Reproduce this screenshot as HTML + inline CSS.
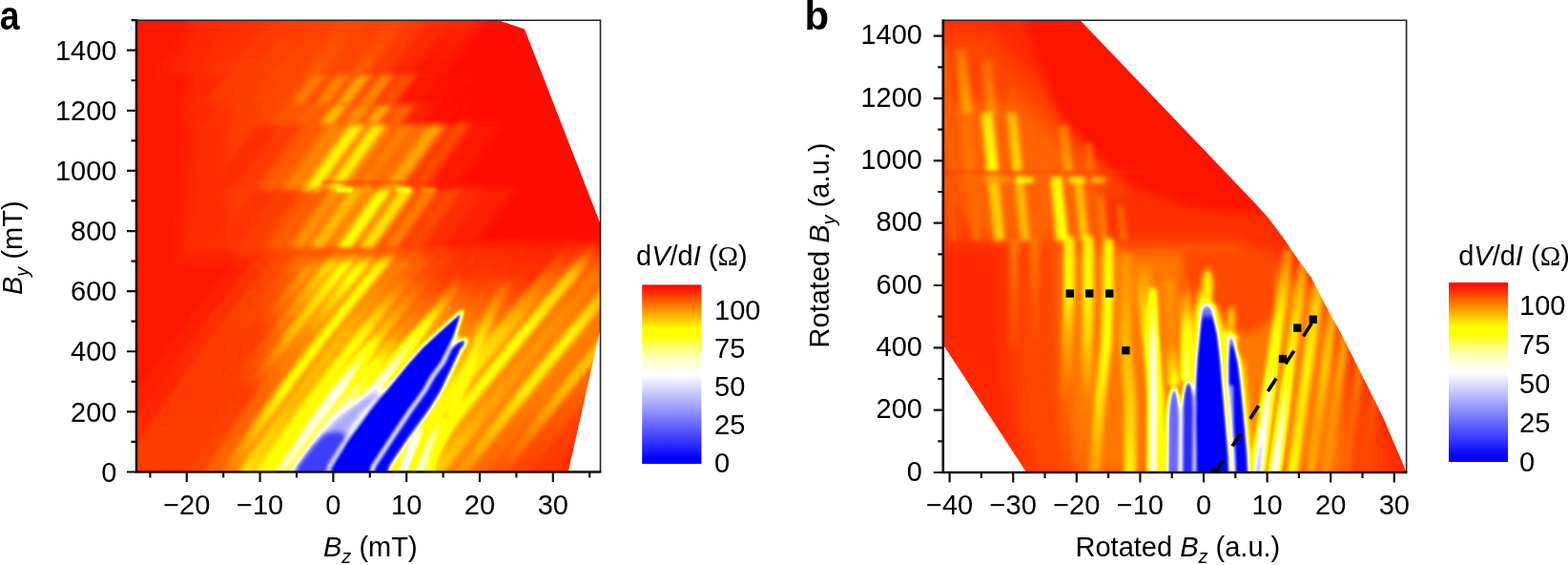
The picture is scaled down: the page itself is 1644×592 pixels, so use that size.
<!DOCTYPE html>
<html><head><meta charset="utf-8"><title>dV/dI maps</title>
<style>html,body{margin:0;padding:0;background:#fff;width:1644px;height:592px;overflow:hidden}svg{display:block}</style>
</head><body><svg width="1644" height="592" viewBox="0 0 1644 592"><defs><filter id="cm" filterUnits="userSpaceOnUse" x="0" y="0" width="1644" height="592" color-interpolation-filters="sRGB"><feGaussianBlur stdDeviation="1.6"/><feComponentTransfer><feFuncR type="table" tableValues="0 0 0 0 0.009 0.026 0.042 0.059 0.076 0.092 0.109 0.126 0.142 0.159 0.176 0.192 0.209 0.226 0.242 0.259 0.276 0.292 0.309 0.326 0.342 0.359 0.376 0.392 0.409 0.426 0.442 0.459 0.475 0.492 0.509 0.525 0.542 0.559 0.575 0.592 0.609 0.625 0.642 0.659 0.675 0.692 0.709 0.725 0.742 0.759 0.775 0.792 0.809 0.825 0.842 0.859 0.875 0.892 0.909 0.925 0.942 0.959 0.975 0.992 1 1 1 1 1 1 1 1 1 1 1 1 1 1 1 1 1 1 1 1 1 1 1 1 1 1 1 1 1 1 1 1 1 1 1 1 1 1 1 1 1 1 1 1 1 1 1 1 1 1 1 1 1 1 1 1 1 1 1 1 1 1 1 1 1"/><feFuncG type="table" tableValues="0 0 0 0 0.009 0.026 0.042 0.059 0.076 0.092 0.109 0.126 0.142 0.159 0.176 0.192 0.209 0.226 0.242 0.259 0.276 0.292 0.309 0.326 0.342 0.359 0.376 0.392 0.409 0.426 0.442 0.459 0.475 0.492 0.509 0.525 0.542 0.559 0.575 0.592 0.609 0.625 0.642 0.659 0.675 0.692 0.709 0.725 0.742 0.759 0.775 0.792 0.809 0.825 0.842 0.859 0.875 0.892 0.909 0.925 0.942 0.959 0.975 0.992 1 1 1 1 1 1 1 1 1 1 1 1 1 1 1 1 1 1 1 1 1 1 1 1 1 1 1 1 1 1 1 1 1 0.989 0.957 0.925 0.893 0.861 0.829 0.797 0.765 0.733 0.702 0.67 0.638 0.606 0.574 0.542 0.51 0.478 0.446 0.415 0.383 0.351 0.319 0.287 0.255 0.223 0.191 0.159 0.128 0.096 0.064 0.032 0"/><feFuncB type="table" tableValues="1 1 1 1 1 1 1 1 1 1 1 1 1 1 1 1 1 1 1 1 1 1 1 1 1 1 1 1 1 1 1 1 1 1 1 1 1 1 1 1 1 1 1 1 1 1 1 1 1 1 1 1 1 1 1 1 1 1 1 1 1 1 1 1 0.989 0.968 0.947 0.926 0.905 0.884 0.863 0.842 0.821 0.8 0.779 0.758 0.726 0.687 0.648 0.609 0.57 0.531 0.492 0.447 0.393 0.34 0.287 0.234 0.181 0.127 0.074 0.021 0 0 0 0 0 0 0 0 0 0 0 0 0 0 0 0 0 0 0 0 0 0 0 0 0 0 0 0 0 0 0 0 0 0 0 0 0"/></feComponentTransfer></filter><filter id="b1" filterUnits="userSpaceOnUse" x="-50" y="-50" width="1744" height="692" color-interpolation-filters="sRGB"><feGaussianBlur stdDeviation="1"/></filter><filter id="b2" filterUnits="userSpaceOnUse" x="-50" y="-50" width="1744" height="692" color-interpolation-filters="sRGB"><feGaussianBlur stdDeviation="2"/></filter><filter id="b3" filterUnits="userSpaceOnUse" x="-50" y="-50" width="1744" height="692" color-interpolation-filters="sRGB"><feGaussianBlur stdDeviation="3"/></filter><filter id="b4" filterUnits="userSpaceOnUse" x="-50" y="-50" width="1744" height="692" color-interpolation-filters="sRGB"><feGaussianBlur stdDeviation="4"/></filter><filter id="b5" filterUnits="userSpaceOnUse" x="-50" y="-50" width="1744" height="692" color-interpolation-filters="sRGB"><feGaussianBlur stdDeviation="5"/></filter><filter id="b6" filterUnits="userSpaceOnUse" x="-50" y="-50" width="1744" height="692" color-interpolation-filters="sRGB"><feGaussianBlur stdDeviation="6"/></filter><filter id="b8" filterUnits="userSpaceOnUse" x="-50" y="-50" width="1744" height="692" color-interpolation-filters="sRGB"><feGaussianBlur stdDeviation="8"/></filter><filter id="b10" filterUnits="userSpaceOnUse" x="-50" y="-50" width="1744" height="692" color-interpolation-filters="sRGB"><feGaussianBlur stdDeviation="10"/></filter><filter id="b12" filterUnits="userSpaceOnUse" x="-50" y="-50" width="1744" height="692" color-interpolation-filters="sRGB"><feGaussianBlur stdDeviation="12"/></filter><filter id="b16" filterUnits="userSpaceOnUse" x="-50" y="-50" width="1744" height="692" color-interpolation-filters="sRGB"><feGaussianBlur stdDeviation="16"/></filter><linearGradient id="cbg" x1="0" y1="0" x2="0" y2="1"><stop offset="0.00" stop-color="#ff0000"/><stop offset="0.01" stop-color="#ff0a00"/><stop offset="0.02" stop-color="#ff1500"/><stop offset="0.03" stop-color="#ff1f00"/><stop offset="0.04" stop-color="#ff2a00"/><stop offset="0.05" stop-color="#ff3400"/><stop offset="0.06" stop-color="#ff3e00"/><stop offset="0.07" stop-color="#ff4900"/><stop offset="0.08" stop-color="#ff5300"/><stop offset="0.09" stop-color="#ff5e00"/><stop offset="0.10" stop-color="#ff6800"/><stop offset="0.11" stop-color="#ff7200"/><stop offset="0.12" stop-color="#ff7d00"/><stop offset="0.13" stop-color="#ff8700"/><stop offset="0.14" stop-color="#ff9200"/><stop offset="0.15" stop-color="#ff9c00"/><stop offset="0.16" stop-color="#ffa700"/><stop offset="0.17" stop-color="#ffb100"/><stop offset="0.18" stop-color="#ffbb00"/><stop offset="0.19" stop-color="#ffc600"/><stop offset="0.20" stop-color="#ffd000"/><stop offset="0.21" stop-color="#ffdb00"/><stop offset="0.22" stop-color="#ffe500"/><stop offset="0.23" stop-color="#ffef00"/><stop offset="0.24" stop-color="#fffa00"/><stop offset="0.25" stop-color="#ffff00"/><stop offset="0.26" stop-color="#ffff00"/><stop offset="0.27" stop-color="#ffff00"/><stop offset="0.28" stop-color="#ffff00"/><stop offset="0.29" stop-color="#ffff07"/><stop offset="0.30" stop-color="#ffff18"/><stop offset="0.31" stop-color="#ffff2a"/><stop offset="0.32" stop-color="#ffff3b"/><stop offset="0.33" stop-color="#ffff4c"/><stop offset="0.34" stop-color="#ffff5e"/><stop offset="0.35" stop-color="#ffff6f"/><stop offset="0.36" stop-color="#ffff7e"/><stop offset="0.37" stop-color="#ffff8b"/><stop offset="0.38" stop-color="#ffff98"/><stop offset="0.39" stop-color="#ffffa4"/><stop offset="0.40" stop-color="#ffffb1"/><stop offset="0.41" stop-color="#ffffbe"/><stop offset="0.42" stop-color="#ffffc5"/><stop offset="0.43" stop-color="#ffffcc"/><stop offset="0.44" stop-color="#ffffd3"/><stop offset="0.45" stop-color="#ffffda"/><stop offset="0.46" stop-color="#ffffe1"/><stop offset="0.47" stop-color="#ffffe8"/><stop offset="0.48" stop-color="#ffffef"/><stop offset="0.49" stop-color="#fffff5"/><stop offset="0.50" stop-color="#fffffc"/><stop offset="0.51" stop-color="#fcfcff"/><stop offset="0.52" stop-color="#f6f6ff"/><stop offset="0.53" stop-color="#f1f1ff"/><stop offset="0.54" stop-color="#ebebff"/><stop offset="0.55" stop-color="#e6e6ff"/><stop offset="0.56" stop-color="#e1e1ff"/><stop offset="0.57" stop-color="#dbdbff"/><stop offset="0.58" stop-color="#d6d6ff"/><stop offset="0.59" stop-color="#d0d0ff"/><stop offset="0.60" stop-color="#cbcbff"/><stop offset="0.61" stop-color="#c5c5ff"/><stop offset="0.62" stop-color="#c0c0ff"/><stop offset="0.63" stop-color="#babaff"/><stop offset="0.64" stop-color="#b5b5ff"/><stop offset="0.65" stop-color="#b0b0ff"/><stop offset="0.66" stop-color="#aaaaff"/><stop offset="0.67" stop-color="#a5a5ff"/><stop offset="0.68" stop-color="#9f9fff"/><stop offset="0.69" stop-color="#9a9aff"/><stop offset="0.70" stop-color="#9494ff"/><stop offset="0.71" stop-color="#8f8fff"/><stop offset="0.72" stop-color="#8a8aff"/><stop offset="0.73" stop-color="#8484ff"/><stop offset="0.74" stop-color="#7f7fff"/><stop offset="0.75" stop-color="#7979ff"/><stop offset="0.76" stop-color="#7474ff"/><stop offset="0.77" stop-color="#6e6eff"/><stop offset="0.78" stop-color="#6969ff"/><stop offset="0.79" stop-color="#6363ff"/><stop offset="0.80" stop-color="#5e5eff"/><stop offset="0.81" stop-color="#5959ff"/><stop offset="0.82" stop-color="#5353ff"/><stop offset="0.83" stop-color="#4e4eff"/><stop offset="0.84" stop-color="#4848ff"/><stop offset="0.85" stop-color="#4343ff"/><stop offset="0.86" stop-color="#3d3dff"/><stop offset="0.87" stop-color="#3838ff"/><stop offset="0.88" stop-color="#3333ff"/><stop offset="0.89" stop-color="#2d2dff"/><stop offset="0.90" stop-color="#2828ff"/><stop offset="0.91" stop-color="#2222ff"/><stop offset="0.92" stop-color="#1d1dff"/><stop offset="0.93" stop-color="#1717ff"/><stop offset="0.94" stop-color="#1212ff"/><stop offset="0.95" stop-color="#0d0dff"/><stop offset="0.96" stop-color="#0707ff"/><stop offset="0.97" stop-color="#0202ff"/><stop offset="0.98" stop-color="#0000ff"/><stop offset="0.99" stop-color="#0000ff"/><stop offset="1.00" stop-color="#0000ff"/></linearGradient><clipPath id="clipA"><polygon points="143.0,21.3 522.6,21.3 550.0,30.5 629.5,234.5 629.5,344.5 595.8,494.5 143.0,494.5"/></clipPath><clipPath id="clipB"><polygon points="988.8,21.3 1132.5,21.3 1315.0,212.0 1330.0,228.5 1345.0,248.5 1359.0,269.0 1375.0,291.0 1388.0,316.4 1405.6,348.5 1428.0,393.0 1450.5,438.0 1474.6,494.7 1076.0,494.7 988.8,361.0"/></clipPath></defs><g clip-path="url(#clipA)"><g filter="url(#cm)"><rect x="100.0" y="0.0" width="560.0" height="520.0" fill="#f9f9f9"/><g filter="url(#b8)"><polygon points="425.0,0.0 660.0,0.0 660.0,250.0 478.0,255.0 470.0,200.0 462.0,150.0 440.0,100.0" fill="#fcfcfc"/></g><g filter="url(#b3)"><clipPath id="ca27"><rect x="0.0" y="257.0" width="700.0" height="300.0"/></clipPath><g><g clip-path="url(#ca27)"><linearGradient id="ga1" gradientUnits="userSpaceOnUse" x1="405.3" y1="500.0" x2="617.8" y2="240.0"><stop offset="0.000" stop-color="#b8b8b8"/><stop offset="0.038" stop-color="#b8b8b8"/><stop offset="0.076" stop-color="#b9b9b9"/><stop offset="0.113" stop-color="#bbbbbb"/><stop offset="0.151" stop-color="#bcbcbc"/><stop offset="0.189" stop-color="#bdbdbd"/><stop offset="0.227" stop-color="#bebebe"/><stop offset="0.265" stop-color="#bfbfbf"/><stop offset="0.304" stop-color="#c1c1c1"/><stop offset="0.342" stop-color="#c2c2c2"/><stop offset="0.380" stop-color="#c4c4c4"/><stop offset="0.418" stop-color="#c5c5c5"/><stop offset="0.457" stop-color="#c7c7c7"/><stop offset="0.495" stop-color="#c9c9c9"/><stop offset="0.534" stop-color="#cacaca"/><stop offset="0.572" stop-color="#cccccc"/><stop offset="0.611" stop-color="#d0d0d0"/><stop offset="0.650" stop-color="#d4d4d4"/><stop offset="0.688" stop-color="#d9d9d9"/><stop offset="0.727" stop-color="#dddddd"/><stop offset="0.766" stop-color="#e1e1e1"/><stop offset="0.805" stop-color="#e6e6e6"/><stop offset="0.844" stop-color="#eaeaea"/><stop offset="0.883" stop-color="#efefef"/><stop offset="0.922" stop-color="#f4f4f4"/><stop offset="0.961" stop-color="#f5f5f5"/><stop offset="1.000" stop-color="#f5f5f5"/><stop offset="1.000" stop-color="#f5f5f5"/></linearGradient><polyline points="405.3,500.0 413.1,490.0 420.9,480.0 428.8,470.0 436.7,460.0 444.6,450.0 452.6,440.0 460.5,430.0 468.5,420.0 476.6,410.0 484.6,400.0 492.7,390.0 500.9,380.0 509.0,370.0 517.2,360.0 525.4,350.0 533.7,340.0 542.0,330.0 550.3,320.0 558.6,310.0 567.0,300.0 575.4,290.0 583.8,280.0 592.2,270.0 600.7,260.0 609.3,250.0 617.8,240.0 617.8,240.0" fill="none" stroke="url(#ga1)" stroke-width="24.0" stroke-linecap="butt" stroke-linejoin="round"/><linearGradient id="ga2" gradientUnits="userSpaceOnUse" x1="428.3" y1="500.0" x2="640.8" y2="240.0"><stop offset="0.000" stop-color="#cccccc"/><stop offset="0.038" stop-color="#cdcdcd"/><stop offset="0.076" stop-color="#cfcfcf"/><stop offset="0.113" stop-color="#d0d0d0"/><stop offset="0.151" stop-color="#d2d2d2"/><stop offset="0.189" stop-color="#d4d4d4"/><stop offset="0.227" stop-color="#d6d6d6"/><stop offset="0.265" stop-color="#d8d8d8"/><stop offset="0.304" stop-color="#d9d9d9"/><stop offset="0.342" stop-color="#dbdbdb"/><stop offset="0.380" stop-color="#dcdcdc"/><stop offset="0.418" stop-color="#dcdcdc"/><stop offset="0.457" stop-color="#dddddd"/><stop offset="0.495" stop-color="#dddddd"/><stop offset="0.534" stop-color="#dddddd"/><stop offset="0.572" stop-color="#dedede"/><stop offset="0.611" stop-color="#dfdfdf"/><stop offset="0.650" stop-color="#e0e0e0"/><stop offset="0.688" stop-color="#e2e2e2"/><stop offset="0.727" stop-color="#e3e3e3"/><stop offset="0.766" stop-color="#e4e4e4"/><stop offset="0.805" stop-color="#e6e6e6"/><stop offset="0.844" stop-color="#eaeaea"/><stop offset="0.883" stop-color="#efefef"/><stop offset="0.922" stop-color="#f4f4f4"/><stop offset="0.961" stop-color="#f5f5f5"/><stop offset="1.000" stop-color="#f5f5f5"/><stop offset="1.000" stop-color="#f5f5f5"/></linearGradient><polyline points="428.3,500.0 436.1,490.0 443.9,480.0 451.8,470.0 459.7,460.0 467.6,450.0 475.6,440.0 483.5,430.0 491.5,420.0 499.6,410.0 507.6,400.0 515.7,390.0 523.9,380.0 532.0,370.0 540.2,360.0 548.4,350.0 556.7,340.0 565.0,330.0 573.3,320.0 581.6,310.0 590.0,300.0 598.4,290.0 606.8,280.0 615.2,270.0 623.7,260.0 632.3,250.0 640.8,240.0 640.8,240.0" fill="none" stroke="url(#ga2)" stroke-width="24.0" stroke-linecap="butt" stroke-linejoin="round"/><linearGradient id="ga3" gradientUnits="userSpaceOnUse" x1="453.3" y1="500.0" x2="665.8" y2="240.0"><stop offset="0.000" stop-color="#d6d6d6"/><stop offset="0.038" stop-color="#d7d7d7"/><stop offset="0.076" stop-color="#d7d7d7"/><stop offset="0.113" stop-color="#d8d8d8"/><stop offset="0.151" stop-color="#d9d9d9"/><stop offset="0.189" stop-color="#dadada"/><stop offset="0.227" stop-color="#dbdbdb"/><stop offset="0.265" stop-color="#dcdcdc"/><stop offset="0.304" stop-color="#dddddd"/><stop offset="0.342" stop-color="#dedede"/><stop offset="0.380" stop-color="#dedede"/><stop offset="0.418" stop-color="#dfdfdf"/><stop offset="0.457" stop-color="#dfdfdf"/><stop offset="0.495" stop-color="#e0e0e0"/><stop offset="0.534" stop-color="#e0e0e0"/><stop offset="0.572" stop-color="#e0e0e0"/><stop offset="0.611" stop-color="#e1e1e1"/><stop offset="0.650" stop-color="#e2e2e2"/><stop offset="0.688" stop-color="#e3e3e3"/><stop offset="0.727" stop-color="#e4e4e4"/><stop offset="0.766" stop-color="#e5e5e5"/><stop offset="0.805" stop-color="#e6e6e6"/><stop offset="0.844" stop-color="#eaeaea"/><stop offset="0.883" stop-color="#efefef"/><stop offset="0.922" stop-color="#f4f4f4"/><stop offset="0.961" stop-color="#f5f5f5"/><stop offset="1.000" stop-color="#f5f5f5"/><stop offset="1.000" stop-color="#f5f5f5"/></linearGradient><polyline points="453.3,500.0 461.1,490.0 468.9,480.0 476.8,470.0 484.7,460.0 492.6,450.0 500.6,440.0 508.5,430.0 516.5,420.0 524.6,410.0 532.6,400.0 540.7,390.0 548.9,380.0 557.0,370.0 565.2,360.0 573.4,350.0 581.7,340.0 590.0,330.0 598.3,320.0 606.6,310.0 615.0,300.0 623.4,290.0 631.8,280.0 640.2,270.0 648.7,260.0 657.3,250.0 665.8,240.0 665.8,240.0" fill="none" stroke="url(#ga3)" stroke-width="24.0" stroke-linecap="butt" stroke-linejoin="round"/><linearGradient id="ga4" gradientUnits="userSpaceOnUse" x1="479.3" y1="500.0" x2="691.8" y2="240.0"><stop offset="0.000" stop-color="#e0e0e0"/><stop offset="0.038" stop-color="#e0e0e0"/><stop offset="0.076" stop-color="#e0e0e0"/><stop offset="0.113" stop-color="#e0e0e0"/><stop offset="0.151" stop-color="#dfdfdf"/><stop offset="0.189" stop-color="#dfdfdf"/><stop offset="0.227" stop-color="#dfdfdf"/><stop offset="0.265" stop-color="#dedede"/><stop offset="0.304" stop-color="#dedede"/><stop offset="0.342" stop-color="#dedede"/><stop offset="0.380" stop-color="#dedede"/><stop offset="0.418" stop-color="#dedede"/><stop offset="0.457" stop-color="#dedede"/><stop offset="0.495" stop-color="#dedede"/><stop offset="0.534" stop-color="#dedede"/><stop offset="0.572" stop-color="#dedede"/><stop offset="0.611" stop-color="#dfdfdf"/><stop offset="0.650" stop-color="#e0e0e0"/><stop offset="0.688" stop-color="#e2e2e2"/><stop offset="0.727" stop-color="#e3e3e3"/><stop offset="0.766" stop-color="#e4e4e4"/><stop offset="0.805" stop-color="#e6e6e6"/><stop offset="0.844" stop-color="#eaeaea"/><stop offset="0.883" stop-color="#efefef"/><stop offset="0.922" stop-color="#f4f4f4"/><stop offset="0.961" stop-color="#f5f5f5"/><stop offset="1.000" stop-color="#f5f5f5"/><stop offset="1.000" stop-color="#f5f5f5"/></linearGradient><polyline points="479.3,500.0 487.1,490.0 494.9,480.0 502.8,470.0 510.7,460.0 518.6,450.0 526.6,440.0 534.5,430.0 542.5,420.0 550.6,410.0 558.6,400.0 566.7,390.0 574.9,380.0 583.0,370.0 591.2,360.0 599.4,350.0 607.7,340.0 616.0,330.0 624.3,320.0 632.6,310.0 641.0,300.0 649.4,290.0 657.8,280.0 666.2,270.0 674.7,260.0 683.3,250.0 691.8,240.0 691.8,240.0" fill="none" stroke="url(#ga4)" stroke-width="24.0" stroke-linecap="butt" stroke-linejoin="round"/><linearGradient id="ga5" gradientUnits="userSpaceOnUse" x1="499.3" y1="500.0" x2="711.8" y2="240.0"><stop offset="0.000" stop-color="#e6e6e6"/><stop offset="0.038" stop-color="#e5e5e5"/><stop offset="0.076" stop-color="#e5e5e5"/><stop offset="0.113" stop-color="#e4e4e4"/><stop offset="0.151" stop-color="#e3e3e3"/><stop offset="0.189" stop-color="#e3e3e3"/><stop offset="0.227" stop-color="#e2e2e2"/><stop offset="0.265" stop-color="#e2e2e2"/><stop offset="0.304" stop-color="#e1e1e1"/><stop offset="0.342" stop-color="#e0e0e0"/><stop offset="0.380" stop-color="#e0e0e0"/><stop offset="0.418" stop-color="#e0e0e0"/><stop offset="0.457" stop-color="#e0e0e0"/><stop offset="0.495" stop-color="#e0e0e0"/><stop offset="0.534" stop-color="#e0e0e0"/><stop offset="0.572" stop-color="#e0e0e0"/><stop offset="0.611" stop-color="#e2e2e2"/><stop offset="0.650" stop-color="#e4e4e4"/><stop offset="0.688" stop-color="#e6e6e6"/><stop offset="0.727" stop-color="#e7e7e7"/><stop offset="0.766" stop-color="#e9e9e9"/><stop offset="0.805" stop-color="#ebebeb"/><stop offset="0.844" stop-color="#eeeeee"/><stop offset="0.883" stop-color="#f2f2f2"/><stop offset="0.922" stop-color="#f5f5f5"/><stop offset="0.961" stop-color="#f6f6f6"/><stop offset="1.000" stop-color="#f6f6f6"/><stop offset="1.000" stop-color="#f6f6f6"/></linearGradient><polyline points="499.3,500.0 507.1,490.0 514.9,480.0 522.8,470.0 530.7,460.0 538.6,450.0 546.6,440.0 554.5,430.0 562.5,420.0 570.6,410.0 578.6,400.0 586.7,390.0 594.9,380.0 603.0,370.0 611.2,360.0 619.4,350.0 627.7,340.0 636.0,330.0 644.3,320.0 652.6,310.0 661.0,300.0 669.4,290.0 677.8,280.0 686.2,270.0 694.7,260.0 703.3,250.0 711.8,240.0 711.8,240.0" fill="none" stroke="url(#ga5)" stroke-width="24.0" stroke-linecap="butt" stroke-linejoin="round"/><linearGradient id="ga6" gradientUnits="userSpaceOnUse" x1="519.3" y1="500.0" x2="731.8" y2="240.0"><stop offset="0.000" stop-color="#ebebeb"/><stop offset="0.038" stop-color="#eaeaea"/><stop offset="0.076" stop-color="#e9e9e9"/><stop offset="0.113" stop-color="#e8e8e8"/><stop offset="0.151" stop-color="#e8e8e8"/><stop offset="0.189" stop-color="#e7e7e7"/><stop offset="0.227" stop-color="#e6e6e6"/><stop offset="0.265" stop-color="#e5e5e5"/><stop offset="0.304" stop-color="#e4e4e4"/><stop offset="0.342" stop-color="#e3e3e3"/><stop offset="0.380" stop-color="#e3e3e3"/><stop offset="0.418" stop-color="#e3e3e3"/><stop offset="0.457" stop-color="#e3e3e3"/><stop offset="0.495" stop-color="#e3e3e3"/><stop offset="0.534" stop-color="#e3e3e3"/><stop offset="0.572" stop-color="#e3e3e3"/><stop offset="0.611" stop-color="#e5e5e5"/><stop offset="0.650" stop-color="#e6e6e6"/><stop offset="0.688" stop-color="#e8e8e8"/><stop offset="0.727" stop-color="#eaeaea"/><stop offset="0.766" stop-color="#ebebeb"/><stop offset="0.805" stop-color="#ededed"/><stop offset="0.844" stop-color="#f0f0f0"/><stop offset="0.883" stop-color="#f3f3f3"/><stop offset="0.922" stop-color="#f6f6f6"/><stop offset="0.961" stop-color="#f6f6f6"/><stop offset="1.000" stop-color="#f6f6f6"/><stop offset="1.000" stop-color="#f6f6f6"/></linearGradient><polyline points="519.3,500.0 527.1,490.0 534.9,480.0 542.8,470.0 550.7,460.0 558.6,450.0 566.6,440.0 574.5,430.0 582.5,420.0 590.6,410.0 598.6,400.0 606.7,390.0 614.9,380.0 623.0,370.0 631.2,360.0 639.4,350.0 647.7,340.0 656.0,330.0 664.3,320.0 672.6,310.0 681.0,300.0 689.4,290.0 697.8,280.0 706.2,270.0 714.7,260.0 723.3,250.0 731.8,240.0 731.8,240.0" fill="none" stroke="url(#ga6)" stroke-width="24.0" stroke-linecap="butt" stroke-linejoin="round"/><linearGradient id="ga7" gradientUnits="userSpaceOnUse" x1="541.3" y1="500.0" x2="753.8" y2="240.0"><stop offset="0.000" stop-color="#eeeeee"/><stop offset="0.038" stop-color="#eeeeee"/><stop offset="0.076" stop-color="#ededed"/><stop offset="0.113" stop-color="#ededed"/><stop offset="0.151" stop-color="#ececec"/><stop offset="0.189" stop-color="#ebebeb"/><stop offset="0.227" stop-color="#eaeaea"/><stop offset="0.265" stop-color="#eaeaea"/><stop offset="0.304" stop-color="#e9e9e9"/><stop offset="0.342" stop-color="#e8e8e8"/><stop offset="0.380" stop-color="#e8e8e8"/><stop offset="0.418" stop-color="#e7e7e7"/><stop offset="0.457" stop-color="#e7e7e7"/><stop offset="0.495" stop-color="#e6e6e6"/><stop offset="0.534" stop-color="#e6e6e6"/><stop offset="0.572" stop-color="#e6e6e6"/><stop offset="0.611" stop-color="#e7e7e7"/><stop offset="0.650" stop-color="#e9e9e9"/><stop offset="0.688" stop-color="#ebebeb"/><stop offset="0.727" stop-color="#ececec"/><stop offset="0.766" stop-color="#eeeeee"/><stop offset="0.805" stop-color="#f0f0f0"/><stop offset="0.844" stop-color="#f2f2f2"/><stop offset="0.883" stop-color="#f4f4f4"/><stop offset="0.922" stop-color="#f6f6f6"/><stop offset="0.961" stop-color="#f6f6f6"/><stop offset="1.000" stop-color="#f6f6f6"/><stop offset="1.000" stop-color="#f6f6f6"/></linearGradient><polyline points="541.3,500.0 549.1,490.0 556.9,480.0 564.8,470.0 572.7,460.0 580.6,450.0 588.6,440.0 596.5,430.0 604.5,420.0 612.6,410.0 620.6,400.0 628.7,390.0 636.9,380.0 645.0,370.0 653.2,360.0 661.4,350.0 669.7,340.0 678.0,330.0 686.3,320.0 694.6,310.0 703.0,300.0 711.4,290.0 719.8,280.0 728.2,270.0 736.7,260.0 745.3,250.0 753.8,240.0 753.8,240.0" fill="none" stroke="url(#ga7)" stroke-width="24.0" stroke-linecap="butt" stroke-linejoin="round"/><linearGradient id="ga8" gradientUnits="userSpaceOnUse" x1="563.3" y1="500.0" x2="775.8" y2="240.0"><stop offset="0.000" stop-color="#f1f1f1"/><stop offset="0.038" stop-color="#f1f1f1"/><stop offset="0.076" stop-color="#f0f0f0"/><stop offset="0.113" stop-color="#f0f0f0"/><stop offset="0.151" stop-color="#efefef"/><stop offset="0.189" stop-color="#efefef"/><stop offset="0.227" stop-color="#efefef"/><stop offset="0.265" stop-color="#eeeeee"/><stop offset="0.304" stop-color="#eeeeee"/><stop offset="0.342" stop-color="#ededed"/><stop offset="0.380" stop-color="#ededed"/><stop offset="0.418" stop-color="#ececec"/><stop offset="0.457" stop-color="#ececec"/><stop offset="0.495" stop-color="#ebebeb"/><stop offset="0.534" stop-color="#ebebeb"/><stop offset="0.572" stop-color="#ebebeb"/><stop offset="0.611" stop-color="#ececec"/><stop offset="0.650" stop-color="#ededed"/><stop offset="0.688" stop-color="#eeeeee"/><stop offset="0.727" stop-color="#efefef"/><stop offset="0.766" stop-color="#f0f0f0"/><stop offset="0.805" stop-color="#f1f1f1"/><stop offset="0.844" stop-color="#f3f3f3"/><stop offset="0.883" stop-color="#f4f4f4"/><stop offset="0.922" stop-color="#f6f6f6"/><stop offset="0.961" stop-color="#f6f6f6"/><stop offset="1.000" stop-color="#f6f6f6"/><stop offset="1.000" stop-color="#f6f6f6"/></linearGradient><polyline points="563.3,500.0 571.1,490.0 578.9,480.0 586.8,470.0 594.7,460.0 602.6,450.0 610.6,440.0 618.5,430.0 626.5,420.0 634.6,410.0 642.6,400.0 650.7,390.0 658.9,380.0 667.0,370.0 675.2,360.0 683.4,350.0 691.7,340.0 700.0,330.0 708.3,320.0 716.6,310.0 725.0,300.0 733.4,290.0 741.8,280.0 750.2,270.0 758.7,260.0 767.3,250.0 775.8,240.0 775.8,240.0" fill="none" stroke="url(#ga8)" stroke-width="24.0" stroke-linecap="butt" stroke-linejoin="round"/><linearGradient id="ga9" gradientUnits="userSpaceOnUse" x1="585.3" y1="500.0" x2="797.8" y2="240.0"><stop offset="0.000" stop-color="#f2f2f2"/><stop offset="0.038" stop-color="#f2f2f2"/><stop offset="0.076" stop-color="#f2f2f2"/><stop offset="0.113" stop-color="#f2f2f2"/><stop offset="0.151" stop-color="#f2f2f2"/><stop offset="0.189" stop-color="#f2f2f2"/><stop offset="0.227" stop-color="#f1f1f1"/><stop offset="0.265" stop-color="#f1f1f1"/><stop offset="0.304" stop-color="#f1f1f1"/><stop offset="0.342" stop-color="#f1f1f1"/><stop offset="0.380" stop-color="#f1f1f1"/><stop offset="0.418" stop-color="#f1f1f1"/><stop offset="0.457" stop-color="#f0f0f0"/><stop offset="0.495" stop-color="#f0f0f0"/><stop offset="0.534" stop-color="#f0f0f0"/><stop offset="0.572" stop-color="#f0f0f0"/><stop offset="0.611" stop-color="#f0f0f0"/><stop offset="0.650" stop-color="#f1f1f1"/><stop offset="0.688" stop-color="#f1f1f1"/><stop offset="0.727" stop-color="#f1f1f1"/><stop offset="0.766" stop-color="#f2f2f2"/><stop offset="0.805" stop-color="#f2f2f2"/><stop offset="0.844" stop-color="#f3f3f3"/><stop offset="0.883" stop-color="#f5f5f5"/><stop offset="0.922" stop-color="#f6f6f6"/><stop offset="0.961" stop-color="#f6f6f6"/><stop offset="1.000" stop-color="#f6f6f6"/><stop offset="1.000" stop-color="#f6f6f6"/></linearGradient><polyline points="585.3,500.0 593.1,490.0 600.9,480.0 608.8,470.0 616.7,460.0 624.6,450.0 632.6,440.0 640.5,430.0 648.5,420.0 656.6,410.0 664.6,400.0 672.7,390.0 680.9,380.0 689.0,370.0 697.2,360.0 705.4,350.0 713.7,340.0 722.0,330.0 730.3,320.0 738.6,310.0 747.0,300.0 755.4,290.0 763.8,280.0 772.2,270.0 780.7,260.0 789.3,250.0 797.8,240.0 797.8,240.0" fill="none" stroke="url(#ga9)" stroke-width="24.0" stroke-linecap="butt" stroke-linejoin="round"/><linearGradient id="ga10" gradientUnits="userSpaceOnUse" x1="603.3" y1="500.0" x2="815.8" y2="240.0"><stop offset="0.000" stop-color="#f4f4f4"/><stop offset="0.038" stop-color="#f4f4f4"/><stop offset="0.076" stop-color="#f4f4f4"/><stop offset="0.113" stop-color="#f4f4f4"/><stop offset="0.151" stop-color="#f4f4f4"/><stop offset="0.189" stop-color="#f4f4f4"/><stop offset="0.227" stop-color="#f4f4f4"/><stop offset="0.265" stop-color="#f4f4f4"/><stop offset="0.304" stop-color="#f4f4f4"/><stop offset="0.342" stop-color="#f4f4f4"/><stop offset="0.380" stop-color="#f4f4f4"/><stop offset="0.418" stop-color="#f4f4f4"/><stop offset="0.457" stop-color="#f4f4f4"/><stop offset="0.495" stop-color="#f4f4f4"/><stop offset="0.534" stop-color="#f4f4f4"/><stop offset="0.572" stop-color="#f4f4f4"/><stop offset="0.611" stop-color="#f4f4f4"/><stop offset="0.650" stop-color="#f4f4f4"/><stop offset="0.688" stop-color="#f4f4f4"/><stop offset="0.727" stop-color="#f4f4f4"/><stop offset="0.766" stop-color="#f5f5f5"/><stop offset="0.805" stop-color="#f5f5f5"/><stop offset="0.844" stop-color="#f5f5f5"/><stop offset="0.883" stop-color="#f6f6f6"/><stop offset="0.922" stop-color="#f6f6f6"/><stop offset="0.961" stop-color="#f6f6f6"/><stop offset="1.000" stop-color="#f6f6f6"/><stop offset="1.000" stop-color="#f6f6f6"/></linearGradient><polyline points="603.3,500.0 611.1,490.0 618.9,480.0 626.8,470.0 634.7,460.0 642.6,450.0 650.6,440.0 658.5,430.0 666.5,420.0 674.6,410.0 682.6,400.0 690.7,390.0 698.9,380.0 707.0,370.0 715.2,360.0 723.4,350.0 731.7,340.0 740.0,330.0 748.3,320.0 756.6,310.0 765.0,300.0 773.4,290.0 781.8,280.0 790.2,270.0 798.7,260.0 807.3,250.0 815.8,240.0 815.8,240.0" fill="none" stroke="url(#ga10)" stroke-width="24.0" stroke-linecap="butt" stroke-linejoin="round"/><polyline points="76.3,500.0 82.5,490.0 88.8,480.0 95.1,470.0 101.6,460.0 108.2,450.0 114.8,440.0 121.5,430.0 128.3,420.0 135.3,410.0 142.3,400.0 149.3,390.0 156.5,380.0 163.8,370.0 171.2,360.0 178.6,350.0 186.2,340.0 193.8,330.0 201.5,320.0 209.3,310.0 217.2,300.0 225.2,290.0 233.3,280.0 241.5,270.0 249.7,260.0 258.1,250.0 266.5,240.0 266.5,240.0" fill="none" stroke="#f9f9f9" stroke-width="20.0" stroke-linecap="butt" stroke-linejoin="round"/><polyline points="96.3,500.0 102.5,490.0 108.8,480.0 115.1,470.0 121.6,460.0 128.2,450.0 134.8,440.0 141.5,430.0 148.3,420.0 155.3,410.0 162.3,400.0 169.3,390.0 176.5,380.0 183.8,370.0 191.2,360.0 198.6,350.0 206.2,340.0 213.8,330.0 221.5,320.0 229.3,310.0 237.2,300.0 245.2,290.0 253.3,280.0 261.5,270.0 269.7,260.0 278.1,250.0 286.5,240.0 286.5,240.0" fill="none" stroke="#f7f7f7" stroke-width="20.0" stroke-linecap="butt" stroke-linejoin="round"/><linearGradient id="ga11" gradientUnits="userSpaceOnUse" x1="114.3" y1="500.0" x2="304.5" y2="240.0"><stop offset="0.000" stop-color="#f4f4f4"/><stop offset="0.036" stop-color="#f4f4f4"/><stop offset="0.073" stop-color="#f4f4f4"/><stop offset="0.110" stop-color="#f4f4f4"/><stop offset="0.147" stop-color="#f5f5f5"/><stop offset="0.184" stop-color="#f5f5f5"/><stop offset="0.221" stop-color="#f5f5f5"/><stop offset="0.258" stop-color="#f5f5f5"/><stop offset="0.296" stop-color="#f6f6f6"/><stop offset="0.334" stop-color="#f6f6f6"/><stop offset="0.371" stop-color="#f6f6f6"/><stop offset="0.409" stop-color="#f5f5f5"/><stop offset="0.448" stop-color="#f5f5f5"/><stop offset="0.486" stop-color="#f4f4f4"/><stop offset="0.525" stop-color="#f4f4f4"/><stop offset="0.563" stop-color="#f4f4f4"/><stop offset="0.602" stop-color="#f3f3f3"/><stop offset="0.641" stop-color="#f3f3f3"/><stop offset="0.680" stop-color="#f3f3f3"/><stop offset="0.720" stop-color="#f3f3f3"/><stop offset="0.759" stop-color="#f2f2f2"/><stop offset="0.799" stop-color="#f2f2f2"/><stop offset="0.839" stop-color="#f2f2f2"/><stop offset="0.879" stop-color="#f2f2f2"/><stop offset="0.919" stop-color="#f2f2f2"/><stop offset="0.959" stop-color="#f2f2f2"/><stop offset="1.000" stop-color="#f2f2f2"/><stop offset="1.000" stop-color="#f2f2f2"/></linearGradient><polyline points="114.3,500.0 120.5,490.0 126.8,480.0 133.1,470.0 139.6,460.0 146.2,450.0 152.8,440.0 159.5,430.0 166.3,420.0 173.3,410.0 180.3,400.0 187.3,390.0 194.5,380.0 201.8,370.0 209.2,360.0 216.6,350.0 224.2,340.0 231.8,330.0 239.5,320.0 247.3,310.0 255.2,300.0 263.2,290.0 271.3,280.0 279.5,270.0 287.7,260.0 296.1,250.0 304.5,240.0 304.5,240.0" fill="none" stroke="url(#ga11)" stroke-width="20.0" stroke-linecap="butt" stroke-linejoin="round"/><linearGradient id="ga12" gradientUnits="userSpaceOnUse" x1="132.3" y1="500.0" x2="322.5" y2="240.0"><stop offset="0.000" stop-color="#f0f0f0"/><stop offset="0.036" stop-color="#f0f0f0"/><stop offset="0.073" stop-color="#f0f0f0"/><stop offset="0.110" stop-color="#f0f0f0"/><stop offset="0.147" stop-color="#f0f0f0"/><stop offset="0.184" stop-color="#f0f0f0"/><stop offset="0.221" stop-color="#f1f1f1"/><stop offset="0.258" stop-color="#f1f1f1"/><stop offset="0.296" stop-color="#f1f1f1"/><stop offset="0.334" stop-color="#f1f1f1"/><stop offset="0.371" stop-color="#f1f1f1"/><stop offset="0.409" stop-color="#f1f1f1"/><stop offset="0.448" stop-color="#f1f1f1"/><stop offset="0.486" stop-color="#f1f1f1"/><stop offset="0.525" stop-color="#f1f1f1"/><stop offset="0.563" stop-color="#f1f1f1"/><stop offset="0.602" stop-color="#f1f1f1"/><stop offset="0.641" stop-color="#f0f0f0"/><stop offset="0.680" stop-color="#f0f0f0"/><stop offset="0.720" stop-color="#efefef"/><stop offset="0.759" stop-color="#efefef"/><stop offset="0.799" stop-color="#eeeeee"/><stop offset="0.839" stop-color="#eeeeee"/><stop offset="0.879" stop-color="#eeeeee"/><stop offset="0.919" stop-color="#ededed"/><stop offset="0.959" stop-color="#ededed"/><stop offset="1.000" stop-color="#ededed"/><stop offset="1.000" stop-color="#ededed"/></linearGradient><polyline points="132.3,500.0 138.5,490.0 144.8,480.0 151.1,470.0 157.6,460.0 164.2,450.0 170.8,440.0 177.5,430.0 184.3,420.0 191.3,410.0 198.3,400.0 205.3,390.0 212.5,380.0 219.8,370.0 227.2,360.0 234.6,350.0 242.2,340.0 249.8,330.0 257.5,320.0 265.3,310.0 273.2,300.0 281.2,290.0 289.3,280.0 297.5,270.0 305.7,260.0 314.1,250.0 322.5,240.0 322.5,240.0" fill="none" stroke="url(#ga12)" stroke-width="20.0" stroke-linecap="butt" stroke-linejoin="round"/><linearGradient id="ga13" gradientUnits="userSpaceOnUse" x1="150.3" y1="500.0" x2="340.5" y2="240.0"><stop offset="0.000" stop-color="#f0f0f0"/><stop offset="0.036" stop-color="#f0f0f0"/><stop offset="0.073" stop-color="#f0f0f0"/><stop offset="0.110" stop-color="#f0f0f0"/><stop offset="0.147" stop-color="#f0f0f0"/><stop offset="0.184" stop-color="#f0f0f0"/><stop offset="0.221" stop-color="#f1f1f1"/><stop offset="0.258" stop-color="#f1f1f1"/><stop offset="0.296" stop-color="#f1f1f1"/><stop offset="0.334" stop-color="#f1f1f1"/><stop offset="0.371" stop-color="#f1f1f1"/><stop offset="0.409" stop-color="#f1f1f1"/><stop offset="0.448" stop-color="#f1f1f1"/><stop offset="0.486" stop-color="#f1f1f1"/><stop offset="0.525" stop-color="#f1f1f1"/><stop offset="0.563" stop-color="#f1f1f1"/><stop offset="0.602" stop-color="#f0f0f0"/><stop offset="0.641" stop-color="#efefef"/><stop offset="0.680" stop-color="#eeeeee"/><stop offset="0.720" stop-color="#ededed"/><stop offset="0.759" stop-color="#ececec"/><stop offset="0.799" stop-color="#ebebeb"/><stop offset="0.839" stop-color="#e9e9e9"/><stop offset="0.879" stop-color="#e7e7e7"/><stop offset="0.919" stop-color="#e6e6e6"/><stop offset="0.959" stop-color="#e6e6e6"/><stop offset="1.000" stop-color="#e6e6e6"/><stop offset="1.000" stop-color="#e6e6e6"/></linearGradient><polyline points="150.3,500.0 156.5,490.0 162.8,480.0 169.1,470.0 175.6,460.0 182.2,450.0 188.8,440.0 195.5,430.0 202.3,420.0 209.3,410.0 216.3,400.0 223.3,390.0 230.5,380.0 237.8,370.0 245.2,360.0 252.6,350.0 260.2,340.0 267.8,330.0 275.5,320.0 283.3,310.0 291.2,300.0 299.2,290.0 307.3,280.0 315.5,270.0 323.7,260.0 332.1,250.0 340.5,240.0 340.5,240.0" fill="none" stroke="url(#ga13)" stroke-width="20.0" stroke-linecap="butt" stroke-linejoin="round"/><linearGradient id="ga14" gradientUnits="userSpaceOnUse" x1="168.3" y1="500.0" x2="358.5" y2="240.0"><stop offset="0.000" stop-color="#f0f0f0"/><stop offset="0.036" stop-color="#f0f0f0"/><stop offset="0.073" stop-color="#f0f0f0"/><stop offset="0.110" stop-color="#f0f0f0"/><stop offset="0.147" stop-color="#f0f0f0"/><stop offset="0.184" stop-color="#f0f0f0"/><stop offset="0.221" stop-color="#f1f1f1"/><stop offset="0.258" stop-color="#f1f1f1"/><stop offset="0.296" stop-color="#f1f1f1"/><stop offset="0.334" stop-color="#f1f1f1"/><stop offset="0.371" stop-color="#f1f1f1"/><stop offset="0.409" stop-color="#f1f1f1"/><stop offset="0.448" stop-color="#f1f1f1"/><stop offset="0.486" stop-color="#f1f1f1"/><stop offset="0.525" stop-color="#f1f1f1"/><stop offset="0.563" stop-color="#f1f1f1"/><stop offset="0.602" stop-color="#efefef"/><stop offset="0.641" stop-color="#ededed"/><stop offset="0.680" stop-color="#ebebeb"/><stop offset="0.720" stop-color="#e9e9e9"/><stop offset="0.759" stop-color="#e7e7e7"/><stop offset="0.799" stop-color="#e6e6e6"/><stop offset="0.839" stop-color="#e6e6e6"/><stop offset="0.879" stop-color="#e6e6e6"/><stop offset="0.919" stop-color="#e6e6e6"/><stop offset="0.959" stop-color="#e6e6e6"/><stop offset="1.000" stop-color="#e6e6e6"/><stop offset="1.000" stop-color="#e6e6e6"/></linearGradient><polyline points="168.3,500.0 174.5,490.0 180.8,480.0 187.1,470.0 193.6,460.0 200.2,450.0 206.8,440.0 213.5,430.0 220.3,420.0 227.3,410.0 234.3,400.0 241.3,390.0 248.5,380.0 255.8,370.0 263.2,360.0 270.6,350.0 278.2,340.0 285.8,330.0 293.5,320.0 301.3,310.0 309.2,300.0 317.2,290.0 325.3,280.0 333.5,270.0 341.7,260.0 350.1,250.0 358.5,240.0 358.5,240.0" fill="none" stroke="url(#ga14)" stroke-width="20.0" stroke-linecap="butt" stroke-linejoin="round"/><linearGradient id="ga15" gradientUnits="userSpaceOnUse" x1="186.3" y1="500.0" x2="376.5" y2="240.0"><stop offset="0.000" stop-color="#f0f0f0"/><stop offset="0.036" stop-color="#f0f0f0"/><stop offset="0.073" stop-color="#f0f0f0"/><stop offset="0.110" stop-color="#f0f0f0"/><stop offset="0.147" stop-color="#f0f0f0"/><stop offset="0.184" stop-color="#f0f0f0"/><stop offset="0.221" stop-color="#f1f1f1"/><stop offset="0.258" stop-color="#f1f1f1"/><stop offset="0.296" stop-color="#f1f1f1"/><stop offset="0.334" stop-color="#f1f1f1"/><stop offset="0.371" stop-color="#f0f0f0"/><stop offset="0.409" stop-color="#efefef"/><stop offset="0.448" stop-color="#eeeeee"/><stop offset="0.486" stop-color="#ededed"/><stop offset="0.525" stop-color="#ececec"/><stop offset="0.563" stop-color="#ebebeb"/><stop offset="0.602" stop-color="#e8e8e8"/><stop offset="0.641" stop-color="#e6e6e6"/><stop offset="0.680" stop-color="#e4e4e4"/><stop offset="0.720" stop-color="#e2e2e2"/><stop offset="0.759" stop-color="#e0e0e0"/><stop offset="0.799" stop-color="#dedede"/><stop offset="0.839" stop-color="#dcdcdc"/><stop offset="0.879" stop-color="#dbdbdb"/><stop offset="0.919" stop-color="#d9d9d9"/><stop offset="0.959" stop-color="#d9d9d9"/><stop offset="1.000" stop-color="#d9d9d9"/><stop offset="1.000" stop-color="#d9d9d9"/></linearGradient><polyline points="186.3,500.0 192.5,490.0 198.8,480.0 205.1,470.0 211.6,460.0 218.2,450.0 224.8,440.0 231.5,430.0 238.3,420.0 245.3,410.0 252.3,400.0 259.3,390.0 266.5,380.0 273.8,370.0 281.2,360.0 288.6,350.0 296.2,340.0 303.8,330.0 311.5,320.0 319.3,310.0 327.2,300.0 335.2,290.0 343.3,280.0 351.5,270.0 359.7,260.0 368.1,250.0 376.5,240.0 376.5,240.0" fill="none" stroke="url(#ga15)" stroke-width="20.0" stroke-linecap="butt" stroke-linejoin="round"/><linearGradient id="ga16" gradientUnits="userSpaceOnUse" x1="202.3" y1="500.0" x2="393.3" y2="240.0"><stop offset="0.000" stop-color="#eeeeee"/><stop offset="0.036" stop-color="#eeeeee"/><stop offset="0.073" stop-color="#efefef"/><stop offset="0.110" stop-color="#efefef"/><stop offset="0.147" stop-color="#efefef"/><stop offset="0.184" stop-color="#efefef"/><stop offset="0.221" stop-color="#efefef"/><stop offset="0.258" stop-color="#efefef"/><stop offset="0.296" stop-color="#f0f0f0"/><stop offset="0.334" stop-color="#f0f0f0"/><stop offset="0.371" stop-color="#ededed"/><stop offset="0.409" stop-color="#ebebeb"/><stop offset="0.448" stop-color="#e8e8e8"/><stop offset="0.486" stop-color="#e6e6e6"/><stop offset="0.525" stop-color="#e3e3e3"/><stop offset="0.563" stop-color="#e0e0e0"/><stop offset="0.602" stop-color="#dfdfdf"/><stop offset="0.641" stop-color="#dedede"/><stop offset="0.680" stop-color="#dddddd"/><stop offset="0.720" stop-color="#dbdbdb"/><stop offset="0.759" stop-color="#dadada"/><stop offset="0.799" stop-color="#d9d9d9"/><stop offset="0.839" stop-color="#d9d9d9"/><stop offset="0.879" stop-color="#d9d9d9"/><stop offset="0.919" stop-color="#d9d9d9"/><stop offset="0.959" stop-color="#d9d9d9"/><stop offset="1.000" stop-color="#d9d9d9"/><stop offset="1.000" stop-color="#d9d9d9"/></linearGradient><polyline points="202.3,500.0 208.5,490.0 214.8,480.0 221.2,470.0 227.7,460.0 234.3,450.0 241.0,440.0 247.7,430.0 254.6,420.0 261.5,410.0 268.5,400.0 275.7,390.0 282.9,380.0 290.2,370.0 297.6,360.0 305.0,350.0 312.6,340.0 320.3,330.0 328.0,320.0 335.9,310.0 343.8,300.0 351.8,290.0 359.9,280.0 368.1,270.0 376.4,260.0 384.8,250.0 393.3,240.0 393.3,240.0" fill="none" stroke="url(#ga16)" stroke-width="20.0" stroke-linecap="butt" stroke-linejoin="round"/><linearGradient id="ga17" gradientUnits="userSpaceOnUse" x1="218.2" y1="500.0" x2="411.3" y2="240.0"><stop offset="0.000" stop-color="#ebebeb"/><stop offset="0.036" stop-color="#eaeaea"/><stop offset="0.073" stop-color="#eaeaea"/><stop offset="0.110" stop-color="#eaeaea"/><stop offset="0.147" stop-color="#eaeaea"/><stop offset="0.184" stop-color="#e9e9e9"/><stop offset="0.221" stop-color="#e9e9e9"/><stop offset="0.258" stop-color="#e9e9e9"/><stop offset="0.296" stop-color="#e8e8e8"/><stop offset="0.333" stop-color="#e8e8e8"/><stop offset="0.371" stop-color="#e6e6e6"/><stop offset="0.409" stop-color="#e5e5e5"/><stop offset="0.448" stop-color="#e3e3e3"/><stop offset="0.486" stop-color="#e1e1e1"/><stop offset="0.525" stop-color="#e0e0e0"/><stop offset="0.563" stop-color="#dedede"/><stop offset="0.602" stop-color="#dddddd"/><stop offset="0.641" stop-color="#dcdcdc"/><stop offset="0.680" stop-color="#dbdbdb"/><stop offset="0.720" stop-color="#dadada"/><stop offset="0.759" stop-color="#dadada"/><stop offset="0.799" stop-color="#d9d9d9"/><stop offset="0.839" stop-color="#dadada"/><stop offset="0.879" stop-color="#dadada"/><stop offset="0.919" stop-color="#dbdbdb"/><stop offset="0.959" stop-color="#dbdbdb"/><stop offset="1.000" stop-color="#dbdbdb"/><stop offset="1.000" stop-color="#dbdbdb"/></linearGradient><polyline points="218.2,500.0 224.5,490.0 230.9,480.0 237.4,470.0 244.0,460.0 250.6,450.0 257.4,440.0 264.2,430.0 271.2,420.0 278.2,410.0 285.3,400.0 292.5,390.0 299.8,380.0 307.2,370.0 314.6,360.0 322.2,350.0 329.8,340.0 337.6,330.0 345.4,320.0 353.3,310.0 361.4,300.0 369.5,290.0 377.6,280.0 385.9,270.0 394.3,260.0 402.8,250.0 411.3,240.0 411.3,240.0" fill="none" stroke="url(#ga17)" stroke-width="20.0" stroke-linecap="butt" stroke-linejoin="round"/><linearGradient id="ga18" gradientUnits="userSpaceOnUse" x1="236.2" y1="500.0" x2="431.6" y2="240.0"><stop offset="0.000" stop-color="#e3e3e3"/><stop offset="0.036" stop-color="#e3e3e3"/><stop offset="0.073" stop-color="#e2e2e2"/><stop offset="0.110" stop-color="#e1e1e1"/><stop offset="0.147" stop-color="#e0e0e0"/><stop offset="0.184" stop-color="#dfdfdf"/><stop offset="0.221" stop-color="#dedede"/><stop offset="0.258" stop-color="#dddddd"/><stop offset="0.296" stop-color="#dcdcdc"/><stop offset="0.333" stop-color="#dbdbdb"/><stop offset="0.371" stop-color="#dbdbdb"/><stop offset="0.409" stop-color="#dbdbdb"/><stop offset="0.448" stop-color="#dbdbdb"/><stop offset="0.486" stop-color="#dbdbdb"/><stop offset="0.524" stop-color="#dbdbdb"/><stop offset="0.563" stop-color="#dbdbdb"/><stop offset="0.602" stop-color="#dbdbdb"/><stop offset="0.641" stop-color="#dbdbdb"/><stop offset="0.680" stop-color="#dbdbdb"/><stop offset="0.720" stop-color="#dbdbdb"/><stop offset="0.759" stop-color="#dbdbdb"/><stop offset="0.799" stop-color="#dbdbdb"/><stop offset="0.839" stop-color="#dcdcdc"/><stop offset="0.879" stop-color="#dddddd"/><stop offset="0.919" stop-color="#dedede"/><stop offset="0.959" stop-color="#dedede"/><stop offset="1.000" stop-color="#dedede"/><stop offset="1.000" stop-color="#dedede"/></linearGradient><polyline points="236.2,500.0 242.6,490.0 249.0,480.0 255.6,470.0 262.3,460.0 269.0,450.0 275.9,440.0 282.8,430.0 289.8,420.0 296.9,410.0 304.1,400.0 311.4,390.0 318.8,380.0 326.3,370.0 333.8,360.0 341.5,350.0 349.2,340.0 357.1,330.0 365.0,320.0 373.0,310.0 381.1,300.0 389.3,290.0 397.6,280.0 405.9,270.0 414.4,260.0 423.0,250.0 431.6,240.0 431.6,240.0" fill="none" stroke="url(#ga18)" stroke-width="20.0" stroke-linecap="butt" stroke-linejoin="round"/><linearGradient id="ga19" gradientUnits="userSpaceOnUse" x1="254.1" y1="500.0" x2="451.9" y2="240.0"><stop offset="0.000" stop-color="#d6d6d6"/><stop offset="0.036" stop-color="#d6d6d6"/><stop offset="0.073" stop-color="#d7d7d7"/><stop offset="0.110" stop-color="#d8d8d8"/><stop offset="0.147" stop-color="#d8d8d8"/><stop offset="0.184" stop-color="#d9d9d9"/><stop offset="0.221" stop-color="#d9d9d9"/><stop offset="0.258" stop-color="#dadada"/><stop offset="0.296" stop-color="#dbdbdb"/><stop offset="0.333" stop-color="#dbdbdb"/><stop offset="0.371" stop-color="#dbdbdb"/><stop offset="0.409" stop-color="#dbdbdb"/><stop offset="0.448" stop-color="#dbdbdb"/><stop offset="0.486" stop-color="#dbdbdb"/><stop offset="0.524" stop-color="#dbdbdb"/><stop offset="0.563" stop-color="#dbdbdb"/><stop offset="0.602" stop-color="#dddddd"/><stop offset="0.641" stop-color="#dedede"/><stop offset="0.680" stop-color="#dfdfdf"/><stop offset="0.720" stop-color="#e0e0e0"/><stop offset="0.759" stop-color="#e2e2e2"/><stop offset="0.799" stop-color="#e3e3e3"/><stop offset="0.839" stop-color="#e4e4e4"/><stop offset="0.879" stop-color="#e5e5e5"/><stop offset="0.919" stop-color="#e5e5e5"/><stop offset="0.959" stop-color="#e6e6e6"/><stop offset="1.000" stop-color="#e6e6e6"/><stop offset="1.000" stop-color="#e6e6e6"/></linearGradient><polyline points="254.1,500.0 260.6,490.0 267.2,480.0 273.8,470.0 280.6,460.0 287.4,450.0 294.4,440.0 301.4,430.0 308.5,420.0 315.7,410.0 323.0,400.0 330.4,390.0 337.8,380.0 345.4,370.0 353.0,360.0 360.8,350.0 368.6,340.0 376.5,330.0 384.6,320.0 392.7,310.0 400.8,300.0 409.1,290.0 417.5,280.0 426.0,270.0 434.5,260.0 443.1,250.0 451.9,240.0 451.9,240.0" fill="none" stroke="url(#ga19)" stroke-width="20.0" stroke-linecap="butt" stroke-linejoin="round"/><linearGradient id="ga20" gradientUnits="userSpaceOnUse" x1="272.1" y1="500.0" x2="472.2" y2="240.0"><stop offset="0.000" stop-color="#c7c7c7"/><stop offset="0.036" stop-color="#c7c7c7"/><stop offset="0.073" stop-color="#c8c8c8"/><stop offset="0.110" stop-color="#c8c8c8"/><stop offset="0.146" stop-color="#c9c9c9"/><stop offset="0.184" stop-color="#cacaca"/><stop offset="0.221" stop-color="#cacaca"/><stop offset="0.258" stop-color="#cbcbcb"/><stop offset="0.296" stop-color="#cbcbcb"/><stop offset="0.333" stop-color="#cccccc"/><stop offset="0.371" stop-color="#cecece"/><stop offset="0.409" stop-color="#cfcfcf"/><stop offset="0.447" stop-color="#d1d1d1"/><stop offset="0.486" stop-color="#d3d3d3"/><stop offset="0.524" stop-color="#d4d4d4"/><stop offset="0.563" stop-color="#d6d6d6"/><stop offset="0.602" stop-color="#d9d9d9"/><stop offset="0.641" stop-color="#dbdbdb"/><stop offset="0.680" stop-color="#dedede"/><stop offset="0.720" stop-color="#e0e0e0"/><stop offset="0.759" stop-color="#e3e3e3"/><stop offset="0.799" stop-color="#e6e6e6"/><stop offset="0.839" stop-color="#e7e7e7"/><stop offset="0.879" stop-color="#e9e9e9"/><stop offset="0.919" stop-color="#eaeaea"/><stop offset="0.959" stop-color="#ebebeb"/><stop offset="1.000" stop-color="#ebebeb"/><stop offset="1.000" stop-color="#ebebeb"/></linearGradient><polyline points="272.1,500.0 278.6,490.0 285.3,480.0 292.1,470.0 298.9,460.0 305.8,450.0 312.8,440.0 320.0,430.0 327.2,420.0 334.4,410.0 341.8,400.0 349.3,390.0 356.9,380.0 364.5,370.0 372.3,360.0 380.1,350.0 388.0,340.0 396.0,330.0 404.1,320.0 412.3,310.0 420.6,300.0 429.0,290.0 437.4,280.0 446.0,270.0 454.6,260.0 463.3,250.0 472.2,240.0 472.2,240.0" fill="none" stroke="url(#ga20)" stroke-width="20.0" stroke-linecap="butt" stroke-linejoin="round"/><linearGradient id="ga21" gradientUnits="userSpaceOnUse" x1="290.0" y1="500.0" x2="491.8" y2="240.0"><stop offset="0.000" stop-color="#bdbdbd"/><stop offset="0.037" stop-color="#bdbdbd"/><stop offset="0.073" stop-color="#bdbdbd"/><stop offset="0.110" stop-color="#bdbdbd"/><stop offset="0.147" stop-color="#bdbdbd"/><stop offset="0.184" stop-color="#bdbdbd"/><stop offset="0.221" stop-color="#bdbdbd"/><stop offset="0.259" stop-color="#bdbdbd"/><stop offset="0.296" stop-color="#bdbdbd"/><stop offset="0.334" stop-color="#bdbdbd"/><stop offset="0.372" stop-color="#c2c2c2"/><stop offset="0.410" stop-color="#c7c7c7"/><stop offset="0.448" stop-color="#cccccc"/><stop offset="0.487" stop-color="#d1d1d1"/><stop offset="0.525" stop-color="#d6d6d6"/><stop offset="0.564" stop-color="#dbdbdb"/><stop offset="0.603" stop-color="#dedede"/><stop offset="0.642" stop-color="#e1e1e1"/><stop offset="0.681" stop-color="#e4e4e4"/><stop offset="0.720" stop-color="#e7e7e7"/><stop offset="0.760" stop-color="#eaeaea"/><stop offset="0.799" stop-color="#ededed"/><stop offset="0.839" stop-color="#efefef"/><stop offset="0.879" stop-color="#f0f0f0"/><stop offset="0.919" stop-color="#f2f2f2"/><stop offset="0.960" stop-color="#f2f2f2"/><stop offset="1.000" stop-color="#f2f2f2"/><stop offset="1.000" stop-color="#f2f2f2"/></linearGradient><polyline points="290.0,500.0 296.7,490.0 303.5,480.0 310.4,470.0 317.3,460.0 324.4,450.0 331.5,440.0 338.7,430.0 346.0,420.0 353.4,410.0 360.9,400.0 368.4,390.0 376.1,380.0 383.8,370.0 391.6,360.0 399.5,350.0 407.4,340.0 415.5,330.0 423.6,320.0 431.9,310.0 440.2,300.0 448.6,290.0 457.0,280.0 465.6,270.0 474.2,260.0 483.0,250.0 491.8,240.0 491.8,240.0" fill="none" stroke="url(#ga21)" stroke-width="20.0" stroke-linecap="butt" stroke-linejoin="round"/><linearGradient id="ga22" gradientUnits="userSpaceOnUse" x1="307.9" y1="500.0" x2="511.2" y2="240.0"><stop offset="0.000" stop-color="#b8b8b8"/><stop offset="0.037" stop-color="#b8b8b8"/><stop offset="0.074" stop-color="#b8b8b8"/><stop offset="0.110" stop-color="#b9b9b9"/><stop offset="0.148" stop-color="#bababa"/><stop offset="0.185" stop-color="#bababa"/><stop offset="0.222" stop-color="#bbbbbb"/><stop offset="0.260" stop-color="#bbbbbb"/><stop offset="0.297" stop-color="#bcbcbc"/><stop offset="0.335" stop-color="#bdbdbd"/><stop offset="0.373" stop-color="#c3c3c3"/><stop offset="0.411" stop-color="#c9c9c9"/><stop offset="0.450" stop-color="#cfcfcf"/><stop offset="0.488" stop-color="#d4d4d4"/><stop offset="0.527" stop-color="#dadada"/><stop offset="0.565" stop-color="#e0e0e0"/><stop offset="0.604" stop-color="#e3e3e3"/><stop offset="0.643" stop-color="#e6e6e6"/><stop offset="0.682" stop-color="#e8e8e8"/><stop offset="0.721" stop-color="#ebebeb"/><stop offset="0.761" stop-color="#ededed"/><stop offset="0.800" stop-color="#f0f0f0"/><stop offset="0.840" stop-color="#f1f1f1"/><stop offset="0.880" stop-color="#f3f3f3"/><stop offset="0.920" stop-color="#f4f4f4"/><stop offset="0.960" stop-color="#f5f5f5"/><stop offset="1.000" stop-color="#f5f5f5"/><stop offset="1.000" stop-color="#f5f5f5"/></linearGradient><polyline points="307.9,500.0 314.8,490.0 321.7,480.0 328.7,470.0 335.8,460.0 343.0,450.0 350.2,440.0 357.6,430.0 365.0,420.0 372.4,410.0 380.0,400.0 387.6,390.0 395.3,380.0 403.1,370.0 411.0,360.0 418.9,350.0 426.9,340.0 435.0,330.0 443.2,320.0 451.4,310.0 459.7,300.0 468.1,290.0 476.6,280.0 485.1,270.0 493.7,260.0 502.4,250.0 511.2,240.0 511.2,240.0" fill="none" stroke="url(#ga22)" stroke-width="20.0" stroke-linecap="butt" stroke-linejoin="round"/><linearGradient id="ga23" gradientUnits="userSpaceOnUse" x1="325.8" y1="500.0" x2="530.6" y2="240.0"><stop offset="0.000" stop-color="#b2b2b2"/><stop offset="0.037" stop-color="#b3b3b3"/><stop offset="0.074" stop-color="#b3b3b3"/><stop offset="0.111" stop-color="#b4b4b4"/><stop offset="0.148" stop-color="#b5b5b5"/><stop offset="0.186" stop-color="#b5b5b5"/><stop offset="0.223" stop-color="#b6b6b6"/><stop offset="0.261" stop-color="#b6b6b6"/><stop offset="0.298" stop-color="#b7b7b7"/><stop offset="0.336" stop-color="#b8b8b8"/><stop offset="0.374" stop-color="#bebebe"/><stop offset="0.412" stop-color="#c3c3c3"/><stop offset="0.451" stop-color="#c9c9c9"/><stop offset="0.489" stop-color="#cfcfcf"/><stop offset="0.528" stop-color="#d5d5d5"/><stop offset="0.566" stop-color="#dbdbdb"/><stop offset="0.605" stop-color="#dfdfdf"/><stop offset="0.644" stop-color="#e3e3e3"/><stop offset="0.683" stop-color="#e6e6e6"/><stop offset="0.722" stop-color="#eaeaea"/><stop offset="0.762" stop-color="#ededed"/><stop offset="0.801" stop-color="#f1f1f1"/><stop offset="0.841" stop-color="#f2f2f2"/><stop offset="0.880" stop-color="#f3f3f3"/><stop offset="0.920" stop-color="#f5f5f5"/><stop offset="0.960" stop-color="#f5f5f5"/><stop offset="1.000" stop-color="#f5f5f5"/><stop offset="1.000" stop-color="#f5f5f5"/></linearGradient><polyline points="325.8,500.0 332.8,490.0 339.9,480.0 347.1,470.0 354.3,460.0 361.6,450.0 369.0,440.0 376.4,430.0 383.9,420.0 391.5,410.0 399.1,400.0 406.8,390.0 414.6,380.0 422.4,370.0 430.3,360.0 438.3,350.0 446.4,340.0 454.5,330.0 462.7,320.0 470.9,310.0 479.3,300.0 487.7,290.0 496.1,280.0 504.6,270.0 513.2,260.0 521.9,250.0 530.6,240.0 530.6,240.0" fill="none" stroke="url(#ga23)" stroke-width="20.0" stroke-linecap="butt" stroke-linejoin="round"/><linearGradient id="ga24" gradientUnits="userSpaceOnUse" x1="345.7" y1="500.0" x2="552.2" y2="240.0"><stop offset="0.000" stop-color="#b2b2b2"/><stop offset="0.037" stop-color="#b3b3b3"/><stop offset="0.074" stop-color="#b4b4b4"/><stop offset="0.112" stop-color="#b5b5b5"/><stop offset="0.149" stop-color="#b7b7b7"/><stop offset="0.186" stop-color="#b8b8b8"/><stop offset="0.224" stop-color="#b9b9b9"/><stop offset="0.262" stop-color="#bababa"/><stop offset="0.300" stop-color="#bbbbbb"/><stop offset="0.338" stop-color="#bdbdbd"/><stop offset="0.376" stop-color="#c1c1c1"/><stop offset="0.414" stop-color="#c5c5c5"/><stop offset="0.452" stop-color="#c9c9c9"/><stop offset="0.491" stop-color="#cecece"/><stop offset="0.529" stop-color="#d2d2d2"/><stop offset="0.568" stop-color="#d6d6d6"/><stop offset="0.606" stop-color="#dbdbdb"/><stop offset="0.645" stop-color="#dfdfdf"/><stop offset="0.684" stop-color="#e4e4e4"/><stop offset="0.723" stop-color="#e8e8e8"/><stop offset="0.762" stop-color="#ededed"/><stop offset="0.802" stop-color="#f1f1f1"/><stop offset="0.841" stop-color="#f2f2f2"/><stop offset="0.881" stop-color="#f3f3f3"/><stop offset="0.920" stop-color="#f5f5f5"/><stop offset="0.960" stop-color="#f5f5f5"/><stop offset="1.000" stop-color="#f5f5f5"/><stop offset="1.000" stop-color="#f5f5f5"/></linearGradient><polyline points="345.7,500.0 352.9,490.0 360.1,480.0 367.5,470.0 374.8,460.0 382.3,450.0 389.8,440.0 397.3,430.0 404.9,420.0 412.6,410.0 420.3,400.0 428.1,390.0 436.0,380.0 443.9,370.0 451.9,360.0 459.9,350.0 468.0,340.0 476.1,330.0 484.4,320.0 492.6,310.0 501.0,300.0 509.4,290.0 517.8,280.0 526.3,270.0 534.9,260.0 543.5,250.0 552.2,240.0 552.2,240.0" fill="none" stroke="url(#ga24)" stroke-width="20.0" stroke-linecap="butt" stroke-linejoin="round"/><linearGradient id="ga25" gradientUnits="userSpaceOnUse" x1="365.6" y1="500.0" x2="573.8" y2="240.0"><stop offset="0.000" stop-color="#b8b8b8"/><stop offset="0.037" stop-color="#b8b8b8"/><stop offset="0.075" stop-color="#b9b9b9"/><stop offset="0.112" stop-color="#bbbbbb"/><stop offset="0.150" stop-color="#bcbcbc"/><stop offset="0.187" stop-color="#bdbdbd"/><stop offset="0.225" stop-color="#bebebe"/><stop offset="0.263" stop-color="#bfbfbf"/><stop offset="0.301" stop-color="#c1c1c1"/><stop offset="0.339" stop-color="#c2c2c2"/><stop offset="0.377" stop-color="#c6c6c6"/><stop offset="0.415" stop-color="#cacaca"/><stop offset="0.453" stop-color="#cfcfcf"/><stop offset="0.492" stop-color="#d3d3d3"/><stop offset="0.530" stop-color="#d7d7d7"/><stop offset="0.569" stop-color="#dbdbdb"/><stop offset="0.608" stop-color="#dfdfdf"/><stop offset="0.646" stop-color="#e3e3e3"/><stop offset="0.685" stop-color="#e6e6e6"/><stop offset="0.724" stop-color="#eaeaea"/><stop offset="0.763" stop-color="#ededed"/><stop offset="0.803" stop-color="#f1f1f1"/><stop offset="0.842" stop-color="#f3f3f3"/><stop offset="0.881" stop-color="#f4f4f4"/><stop offset="0.921" stop-color="#f6f6f6"/><stop offset="0.960" stop-color="#f6f6f6"/><stop offset="1.000" stop-color="#f6f6f6"/><stop offset="1.000" stop-color="#f6f6f6"/></linearGradient><polyline points="365.6,500.0 373.0,490.0 380.4,480.0 387.8,470.0 395.4,460.0 402.9,450.0 410.6,440.0 418.2,430.0 426.0,420.0 433.7,410.0 441.6,400.0 449.4,390.0 457.4,380.0 465.4,370.0 473.4,360.0 481.5,350.0 489.6,340.0 497.8,330.0 506.0,320.0 514.3,310.0 522.7,300.0 531.1,290.0 539.5,280.0 548.0,270.0 556.6,260.0 565.2,250.0 573.8,240.0 573.8,240.0" fill="none" stroke="url(#ga25)" stroke-width="20.0" stroke-linecap="butt" stroke-linejoin="round"/><linearGradient id="ga26" gradientUnits="userSpaceOnUse" x1="385.5" y1="500.0" x2="595.4" y2="240.0"><stop offset="0.000" stop-color="#bdbdbd"/><stop offset="0.037" stop-color="#bdbdbd"/><stop offset="0.075" stop-color="#bebebe"/><stop offset="0.113" stop-color="#c0c0c0"/><stop offset="0.150" stop-color="#c1c1c1"/><stop offset="0.188" stop-color="#c2c2c2"/><stop offset="0.226" stop-color="#c3c3c3"/><stop offset="0.264" stop-color="#c4c4c4"/><stop offset="0.302" stop-color="#c6c6c6"/><stop offset="0.340" stop-color="#c7c7c7"/><stop offset="0.378" stop-color="#cacaca"/><stop offset="0.416" stop-color="#cecece"/><stop offset="0.455" stop-color="#d1d1d1"/><stop offset="0.493" stop-color="#d4d4d4"/><stop offset="0.532" stop-color="#d8d8d8"/><stop offset="0.570" stop-color="#dbdbdb"/><stop offset="0.609" stop-color="#dfdfdf"/><stop offset="0.648" stop-color="#e3e3e3"/><stop offset="0.687" stop-color="#e7e7e7"/><stop offset="0.725" stop-color="#ebebeb"/><stop offset="0.764" stop-color="#eeeeee"/><stop offset="0.803" stop-color="#f2f2f2"/><stop offset="0.843" stop-color="#f3f3f3"/><stop offset="0.882" stop-color="#f5f5f5"/><stop offset="0.921" stop-color="#f6f6f6"/><stop offset="0.961" stop-color="#f6f6f6"/><stop offset="1.000" stop-color="#f6f6f6"/><stop offset="1.000" stop-color="#f6f6f6"/></linearGradient><polyline points="385.5,500.0 393.0,490.0 400.6,480.0 408.2,470.0 415.9,460.0 423.6,450.0 431.4,440.0 439.2,430.0 447.0,420.0 454.9,410.0 462.8,400.0 470.8,390.0 478.8,380.0 486.8,370.0 494.9,360.0 503.1,350.0 511.2,340.0 519.5,330.0 527.7,320.0 536.0,310.0 544.4,300.0 552.8,290.0 561.2,280.0 569.7,270.0 578.2,260.0 586.8,250.0 595.4,240.0 595.4,240.0" fill="none" stroke="url(#ga26)" stroke-width="20.0" stroke-linecap="butt" stroke-linejoin="round"/></g></g></g><g filter="url(#b2)"><clipPath id="ca54"><rect x="0.0" y="257.0" width="700.0" height="300.0"/></clipPath><g><g clip-path="url(#ca54)"><linearGradient id="ga28" gradientUnits="userSpaceOnUse" x1="405.3" y1="500.0" x2="617.8" y2="240.0"><stop offset="0.000" stop-color="#b8b8b8"/><stop offset="0.038" stop-color="#b8b8b8"/><stop offset="0.076" stop-color="#b9b9b9"/><stop offset="0.113" stop-color="#bbbbbb"/><stop offset="0.151" stop-color="#bcbcbc"/><stop offset="0.189" stop-color="#bdbdbd"/><stop offset="0.227" stop-color="#bebebe"/><stop offset="0.265" stop-color="#bfbfbf"/><stop offset="0.304" stop-color="#c1c1c1"/><stop offset="0.342" stop-color="#c2c2c2"/><stop offset="0.380" stop-color="#c4c4c4"/><stop offset="0.418" stop-color="#c5c5c5"/><stop offset="0.457" stop-color="#c7c7c7"/><stop offset="0.495" stop-color="#c9c9c9"/><stop offset="0.534" stop-color="#cacaca"/><stop offset="0.572" stop-color="#cccccc"/><stop offset="0.611" stop-color="#d0d0d0"/><stop offset="0.650" stop-color="#d4d4d4"/><stop offset="0.688" stop-color="#d9d9d9"/><stop offset="0.727" stop-color="#dddddd"/><stop offset="0.766" stop-color="#e1e1e1"/><stop offset="0.805" stop-color="#e6e6e6"/><stop offset="0.844" stop-color="#eaeaea"/><stop offset="0.883" stop-color="#efefef"/><stop offset="0.922" stop-color="#f4f4f4"/><stop offset="0.961" stop-color="#f5f5f5"/><stop offset="1.000" stop-color="#f5f5f5"/><stop offset="1.000" stop-color="#f5f5f5"/></linearGradient><polyline points="405.3,500.0 413.1,490.0 420.9,480.0 428.8,470.0 436.7,460.0 444.6,450.0 452.6,440.0 460.5,430.0 468.5,420.0 476.6,410.0 484.6,400.0 492.7,390.0 500.9,380.0 509.0,370.0 517.2,360.0 525.4,350.0 533.7,340.0 542.0,330.0 550.3,320.0 558.6,310.0 567.0,300.0 575.4,290.0 583.8,280.0 592.2,270.0 600.7,260.0 609.3,250.0 617.8,240.0 617.8,240.0" fill="none" stroke="url(#ga28)" stroke-width="11.0" stroke-linecap="butt" stroke-linejoin="round"/><linearGradient id="ga29" gradientUnits="userSpaceOnUse" x1="428.3" y1="500.0" x2="640.8" y2="240.0"><stop offset="0.000" stop-color="#c2c2c2"/><stop offset="0.038" stop-color="#c2c2c2"/><stop offset="0.076" stop-color="#c1c1c1"/><stop offset="0.113" stop-color="#c1c1c1"/><stop offset="0.151" stop-color="#c1c1c1"/><stop offset="0.189" stop-color="#c0c0c0"/><stop offset="0.227" stop-color="#c0c0c0"/><stop offset="0.265" stop-color="#c0c0c0"/><stop offset="0.304" stop-color="#c0c0c0"/><stop offset="0.342" stop-color="#bfbfbf"/><stop offset="0.380" stop-color="#bfbfbf"/><stop offset="0.418" stop-color="#bfbfbf"/><stop offset="0.457" stop-color="#bfbfbf"/><stop offset="0.495" stop-color="#bfbfbf"/><stop offset="0.534" stop-color="#bfbfbf"/><stop offset="0.572" stop-color="#bfbfbf"/><stop offset="0.611" stop-color="#c1c1c1"/><stop offset="0.650" stop-color="#c4c4c4"/><stop offset="0.688" stop-color="#c6c6c6"/><stop offset="0.727" stop-color="#c8c8c8"/><stop offset="0.766" stop-color="#cacaca"/><stop offset="0.805" stop-color="#cccccc"/><stop offset="0.844" stop-color="#d8d8d8"/><stop offset="0.883" stop-color="#e5e5e5"/><stop offset="0.922" stop-color="#f1f1f1"/><stop offset="0.961" stop-color="#f4f4f4"/><stop offset="1.000" stop-color="#f4f4f4"/><stop offset="1.000" stop-color="#f4f4f4"/></linearGradient><polyline points="428.3,500.0 436.1,490.0 443.9,480.0 451.8,470.0 459.7,460.0 467.6,450.0 475.6,440.0 483.5,430.0 491.5,420.0 499.6,410.0 507.6,400.0 515.7,390.0 523.9,380.0 532.0,370.0 540.2,360.0 548.4,350.0 556.7,340.0 565.0,330.0 573.3,320.0 581.6,310.0 590.0,300.0 598.4,290.0 606.8,280.0 615.2,270.0 623.7,260.0 632.3,250.0 640.8,240.0 640.8,240.0" fill="none" stroke="url(#ga29)" stroke-width="11.0" stroke-linecap="butt" stroke-linejoin="round"/><linearGradient id="ga30" gradientUnits="userSpaceOnUse" x1="453.3" y1="500.0" x2="665.8" y2="240.0"><stop offset="0.000" stop-color="#cccccc"/><stop offset="0.038" stop-color="#cdcdcd"/><stop offset="0.076" stop-color="#cecece"/><stop offset="0.113" stop-color="#d0d0d0"/><stop offset="0.151" stop-color="#d1d1d1"/><stop offset="0.189" stop-color="#d3d3d3"/><stop offset="0.227" stop-color="#d4d4d4"/><stop offset="0.265" stop-color="#d6d6d6"/><stop offset="0.304" stop-color="#d7d7d7"/><stop offset="0.342" stop-color="#d9d9d9"/><stop offset="0.380" stop-color="#d9d9d9"/><stop offset="0.418" stop-color="#dadada"/><stop offset="0.457" stop-color="#dadada"/><stop offset="0.495" stop-color="#dadada"/><stop offset="0.534" stop-color="#dbdbdb"/><stop offset="0.572" stop-color="#dbdbdb"/><stop offset="0.611" stop-color="#dcdcdc"/><stop offset="0.650" stop-color="#dddddd"/><stop offset="0.688" stop-color="#dedede"/><stop offset="0.727" stop-color="#dfdfdf"/><stop offset="0.766" stop-color="#e0e0e0"/><stop offset="0.805" stop-color="#e0e0e0"/><stop offset="0.844" stop-color="#e7e7e7"/><stop offset="0.883" stop-color="#ededed"/><stop offset="0.922" stop-color="#f4f4f4"/><stop offset="0.961" stop-color="#f5f5f5"/><stop offset="1.000" stop-color="#f5f5f5"/><stop offset="1.000" stop-color="#f5f5f5"/></linearGradient><polyline points="453.3,500.0 461.1,490.0 468.9,480.0 476.8,470.0 484.7,460.0 492.6,450.0 500.6,440.0 508.5,430.0 516.5,420.0 524.6,410.0 532.6,400.0 540.7,390.0 548.9,380.0 557.0,370.0 565.2,360.0 573.4,350.0 581.7,340.0 590.0,330.0 598.3,320.0 606.6,310.0 615.0,300.0 623.4,290.0 631.8,280.0 640.2,270.0 648.7,260.0 657.3,250.0 665.8,240.0 665.8,240.0" fill="none" stroke="url(#ga30)" stroke-width="11.0" stroke-linecap="butt" stroke-linejoin="round"/><linearGradient id="ga31" gradientUnits="userSpaceOnUse" x1="479.3" y1="500.0" x2="691.8" y2="240.0"><stop offset="0.000" stop-color="#dbdbdb"/><stop offset="0.038" stop-color="#dadada"/><stop offset="0.076" stop-color="#d7d7d7"/><stop offset="0.113" stop-color="#d5d5d5"/><stop offset="0.151" stop-color="#d2d2d2"/><stop offset="0.189" stop-color="#cfcfcf"/><stop offset="0.227" stop-color="#cdcdcd"/><stop offset="0.265" stop-color="#cacaca"/><stop offset="0.304" stop-color="#c7c7c7"/><stop offset="0.342" stop-color="#c4c4c4"/><stop offset="0.380" stop-color="#c4c4c4"/><stop offset="0.418" stop-color="#c4c4c4"/><stop offset="0.457" stop-color="#c3c3c3"/><stop offset="0.495" stop-color="#c3c3c3"/><stop offset="0.534" stop-color="#c2c2c2"/><stop offset="0.572" stop-color="#c2c2c2"/><stop offset="0.611" stop-color="#c5c5c5"/><stop offset="0.650" stop-color="#c9c9c9"/><stop offset="0.688" stop-color="#cccccc"/><stop offset="0.727" stop-color="#cfcfcf"/><stop offset="0.766" stop-color="#d3d3d3"/><stop offset="0.805" stop-color="#d6d6d6"/><stop offset="0.844" stop-color="#e0e0e0"/><stop offset="0.883" stop-color="#e9e9e9"/><stop offset="0.922" stop-color="#f3f3f3"/><stop offset="0.961" stop-color="#f5f5f5"/><stop offset="1.000" stop-color="#f5f5f5"/><stop offset="1.000" stop-color="#f5f5f5"/></linearGradient><polyline points="479.3,500.0 487.1,490.0 494.9,480.0 502.8,470.0 510.7,460.0 518.6,450.0 526.6,440.0 534.5,430.0 542.5,420.0 550.6,410.0 558.6,400.0 566.7,390.0 574.9,380.0 583.0,370.0 591.2,360.0 599.4,350.0 607.7,340.0 616.0,330.0 624.3,320.0 632.6,310.0 641.0,300.0 649.4,290.0 657.8,280.0 666.2,270.0 674.7,260.0 683.3,250.0 691.8,240.0 691.8,240.0" fill="none" stroke="url(#ga31)" stroke-width="11.0" stroke-linecap="butt" stroke-linejoin="round"/><linearGradient id="ga32" gradientUnits="userSpaceOnUse" x1="499.3" y1="500.0" x2="711.8" y2="240.0"><stop offset="0.000" stop-color="#e6e6e6"/><stop offset="0.038" stop-color="#e5e5e5"/><stop offset="0.076" stop-color="#e5e5e5"/><stop offset="0.113" stop-color="#e4e4e4"/><stop offset="0.151" stop-color="#e3e3e3"/><stop offset="0.189" stop-color="#e3e3e3"/><stop offset="0.227" stop-color="#e2e2e2"/><stop offset="0.265" stop-color="#e2e2e2"/><stop offset="0.304" stop-color="#e1e1e1"/><stop offset="0.342" stop-color="#e0e0e0"/><stop offset="0.380" stop-color="#e0e0e0"/><stop offset="0.418" stop-color="#e0e0e0"/><stop offset="0.457" stop-color="#e0e0e0"/><stop offset="0.495" stop-color="#e0e0e0"/><stop offset="0.534" stop-color="#e0e0e0"/><stop offset="0.572" stop-color="#e0e0e0"/><stop offset="0.611" stop-color="#e2e2e2"/><stop offset="0.650" stop-color="#e4e4e4"/><stop offset="0.688" stop-color="#e6e6e6"/><stop offset="0.727" stop-color="#e7e7e7"/><stop offset="0.766" stop-color="#e9e9e9"/><stop offset="0.805" stop-color="#ebebeb"/><stop offset="0.844" stop-color="#eeeeee"/><stop offset="0.883" stop-color="#f2f2f2"/><stop offset="0.922" stop-color="#f5f5f5"/><stop offset="0.961" stop-color="#f6f6f6"/><stop offset="1.000" stop-color="#f6f6f6"/><stop offset="1.000" stop-color="#f6f6f6"/></linearGradient><polyline points="499.3,500.0 507.1,490.0 514.9,480.0 522.8,470.0 530.7,460.0 538.6,450.0 546.6,440.0 554.5,430.0 562.5,420.0 570.6,410.0 578.6,400.0 586.7,390.0 594.9,380.0 603.0,370.0 611.2,360.0 619.4,350.0 627.7,340.0 636.0,330.0 644.3,320.0 652.6,310.0 661.0,300.0 669.4,290.0 677.8,280.0 686.2,270.0 694.7,260.0 703.3,250.0 711.8,240.0 711.8,240.0" fill="none" stroke="url(#ga32)" stroke-width="11.0" stroke-linecap="butt" stroke-linejoin="round"/><linearGradient id="ga33" gradientUnits="userSpaceOnUse" x1="519.3" y1="500.0" x2="731.8" y2="240.0"><stop offset="0.000" stop-color="#ebebeb"/><stop offset="0.038" stop-color="#e9e9e9"/><stop offset="0.076" stop-color="#e6e6e6"/><stop offset="0.113" stop-color="#e3e3e3"/><stop offset="0.151" stop-color="#e0e0e0"/><stop offset="0.189" stop-color="#dddddd"/><stop offset="0.227" stop-color="#dadada"/><stop offset="0.265" stop-color="#d7d7d7"/><stop offset="0.304" stop-color="#d4d4d4"/><stop offset="0.342" stop-color="#d1d1d1"/><stop offset="0.380" stop-color="#d0d0d0"/><stop offset="0.418" stop-color="#cfcfcf"/><stop offset="0.457" stop-color="#cfcfcf"/><stop offset="0.495" stop-color="#cecece"/><stop offset="0.534" stop-color="#cdcdcd"/><stop offset="0.572" stop-color="#cccccc"/><stop offset="0.611" stop-color="#d0d0d0"/><stop offset="0.650" stop-color="#d4d4d4"/><stop offset="0.688" stop-color="#d9d9d9"/><stop offset="0.727" stop-color="#dddddd"/><stop offset="0.766" stop-color="#e1e1e1"/><stop offset="0.805" stop-color="#e6e6e6"/><stop offset="0.844" stop-color="#ebebeb"/><stop offset="0.883" stop-color="#f0f0f0"/><stop offset="0.922" stop-color="#f5f5f5"/><stop offset="0.961" stop-color="#f6f6f6"/><stop offset="1.000" stop-color="#f6f6f6"/><stop offset="1.000" stop-color="#f6f6f6"/></linearGradient><polyline points="519.3,500.0 527.1,490.0 534.9,480.0 542.8,470.0 550.7,460.0 558.6,450.0 566.6,440.0 574.5,430.0 582.5,420.0 590.6,410.0 598.6,400.0 606.7,390.0 614.9,380.0 623.0,370.0 631.2,360.0 639.4,350.0 647.7,340.0 656.0,330.0 664.3,320.0 672.6,310.0 681.0,300.0 689.4,290.0 697.8,280.0 706.2,270.0 714.7,260.0 723.3,250.0 731.8,240.0 731.8,240.0" fill="none" stroke="url(#ga33)" stroke-width="11.0" stroke-linecap="butt" stroke-linejoin="round"/><linearGradient id="ga34" gradientUnits="userSpaceOnUse" x1="541.3" y1="500.0" x2="753.8" y2="240.0"><stop offset="0.000" stop-color="#eeeeee"/><stop offset="0.038" stop-color="#eeeeee"/><stop offset="0.076" stop-color="#ededed"/><stop offset="0.113" stop-color="#ececec"/><stop offset="0.151" stop-color="#ebebeb"/><stop offset="0.189" stop-color="#eaeaea"/><stop offset="0.227" stop-color="#e9e9e9"/><stop offset="0.265" stop-color="#e8e8e8"/><stop offset="0.304" stop-color="#e7e7e7"/><stop offset="0.342" stop-color="#e6e6e6"/><stop offset="0.380" stop-color="#e5e5e5"/><stop offset="0.418" stop-color="#e4e4e4"/><stop offset="0.457" stop-color="#e3e3e3"/><stop offset="0.495" stop-color="#e2e2e2"/><stop offset="0.534" stop-color="#e1e1e1"/><stop offset="0.572" stop-color="#e0e0e0"/><stop offset="0.611" stop-color="#e3e3e3"/><stop offset="0.650" stop-color="#e5e5e5"/><stop offset="0.688" stop-color="#e7e7e7"/><stop offset="0.727" stop-color="#e9e9e9"/><stop offset="0.766" stop-color="#ebebeb"/><stop offset="0.805" stop-color="#ededed"/><stop offset="0.844" stop-color="#f0f0f0"/><stop offset="0.883" stop-color="#f3f3f3"/><stop offset="0.922" stop-color="#f6f6f6"/><stop offset="0.961" stop-color="#f6f6f6"/><stop offset="1.000" stop-color="#f6f6f6"/><stop offset="1.000" stop-color="#f6f6f6"/></linearGradient><polyline points="541.3,500.0 549.1,490.0 556.9,480.0 564.8,470.0 572.7,460.0 580.6,450.0 588.6,440.0 596.5,430.0 604.5,420.0 612.6,410.0 620.6,400.0 628.7,390.0 636.9,380.0 645.0,370.0 653.2,360.0 661.4,350.0 669.7,340.0 678.0,330.0 686.3,320.0 694.6,310.0 703.0,300.0 711.4,290.0 719.8,280.0 728.2,270.0 736.7,260.0 745.3,250.0 753.8,240.0 753.8,240.0" fill="none" stroke="url(#ga34)" stroke-width="11.0" stroke-linecap="butt" stroke-linejoin="round"/><linearGradient id="ga35" gradientUnits="userSpaceOnUse" x1="563.3" y1="500.0" x2="775.8" y2="240.0"><stop offset="0.000" stop-color="#f1f1f1"/><stop offset="0.038" stop-color="#f1f1f1"/><stop offset="0.076" stop-color="#f0f0f0"/><stop offset="0.113" stop-color="#f0f0f0"/><stop offset="0.151" stop-color="#efefef"/><stop offset="0.189" stop-color="#efefef"/><stop offset="0.227" stop-color="#efefef"/><stop offset="0.265" stop-color="#eeeeee"/><stop offset="0.304" stop-color="#eeeeee"/><stop offset="0.342" stop-color="#ededed"/><stop offset="0.380" stop-color="#ececec"/><stop offset="0.418" stop-color="#ebebeb"/><stop offset="0.457" stop-color="#e9e9e9"/><stop offset="0.495" stop-color="#e8e8e8"/><stop offset="0.534" stop-color="#e7e7e7"/><stop offset="0.572" stop-color="#e6e6e6"/><stop offset="0.611" stop-color="#e7e7e7"/><stop offset="0.650" stop-color="#e9e9e9"/><stop offset="0.688" stop-color="#ebebeb"/><stop offset="0.727" stop-color="#ececec"/><stop offset="0.766" stop-color="#eeeeee"/><stop offset="0.805" stop-color="#f0f0f0"/><stop offset="0.844" stop-color="#f2f2f2"/><stop offset="0.883" stop-color="#f4f4f4"/><stop offset="0.922" stop-color="#f6f6f6"/><stop offset="0.961" stop-color="#f6f6f6"/><stop offset="1.000" stop-color="#f6f6f6"/><stop offset="1.000" stop-color="#f6f6f6"/></linearGradient><polyline points="563.3,500.0 571.1,490.0 578.9,480.0 586.8,470.0 594.7,460.0 602.6,450.0 610.6,440.0 618.5,430.0 626.5,420.0 634.6,410.0 642.6,400.0 650.7,390.0 658.9,380.0 667.0,370.0 675.2,360.0 683.4,350.0 691.7,340.0 700.0,330.0 708.3,320.0 716.6,310.0 725.0,300.0 733.4,290.0 741.8,280.0 750.2,270.0 758.7,260.0 767.3,250.0 775.8,240.0 775.8,240.0" fill="none" stroke="url(#ga35)" stroke-width="11.0" stroke-linecap="butt" stroke-linejoin="round"/><linearGradient id="ga36" gradientUnits="userSpaceOnUse" x1="585.3" y1="500.0" x2="797.8" y2="240.0"><stop offset="0.000" stop-color="#f2f2f2"/><stop offset="0.038" stop-color="#f2f2f2"/><stop offset="0.076" stop-color="#f2f2f2"/><stop offset="0.113" stop-color="#f2f2f2"/><stop offset="0.151" stop-color="#f2f2f2"/><stop offset="0.189" stop-color="#f2f2f2"/><stop offset="0.227" stop-color="#f1f1f1"/><stop offset="0.265" stop-color="#f1f1f1"/><stop offset="0.304" stop-color="#f1f1f1"/><stop offset="0.342" stop-color="#f1f1f1"/><stop offset="0.380" stop-color="#f0f0f0"/><stop offset="0.418" stop-color="#f0f0f0"/><stop offset="0.457" stop-color="#efefef"/><stop offset="0.495" stop-color="#eeeeee"/><stop offset="0.534" stop-color="#eeeeee"/><stop offset="0.572" stop-color="#ededed"/><stop offset="0.611" stop-color="#eeeeee"/><stop offset="0.650" stop-color="#efefef"/><stop offset="0.688" stop-color="#f0f0f0"/><stop offset="0.727" stop-color="#f1f1f1"/><stop offset="0.766" stop-color="#f1f1f1"/><stop offset="0.805" stop-color="#f2f2f2"/><stop offset="0.844" stop-color="#f3f3f3"/><stop offset="0.883" stop-color="#f5f5f5"/><stop offset="0.922" stop-color="#f6f6f6"/><stop offset="0.961" stop-color="#f6f6f6"/><stop offset="1.000" stop-color="#f6f6f6"/><stop offset="1.000" stop-color="#f6f6f6"/></linearGradient><polyline points="585.3,500.0 593.1,490.0 600.9,480.0 608.8,470.0 616.7,460.0 624.6,450.0 632.6,440.0 640.5,430.0 648.5,420.0 656.6,410.0 664.6,400.0 672.7,390.0 680.9,380.0 689.0,370.0 697.2,360.0 705.4,350.0 713.7,340.0 722.0,330.0 730.3,320.0 738.6,310.0 747.0,300.0 755.4,290.0 763.8,280.0 772.2,270.0 780.7,260.0 789.3,250.0 797.8,240.0 797.8,240.0" fill="none" stroke="url(#ga36)" stroke-width="11.0" stroke-linecap="butt" stroke-linejoin="round"/><linearGradient id="ga37" gradientUnits="userSpaceOnUse" x1="603.3" y1="500.0" x2="815.8" y2="240.0"><stop offset="0.000" stop-color="#f4f4f4"/><stop offset="0.038" stop-color="#f4f4f4"/><stop offset="0.076" stop-color="#f4f4f4"/><stop offset="0.113" stop-color="#f4f4f4"/><stop offset="0.151" stop-color="#f4f4f4"/><stop offset="0.189" stop-color="#f4f4f4"/><stop offset="0.227" stop-color="#f4f4f4"/><stop offset="0.265" stop-color="#f4f4f4"/><stop offset="0.304" stop-color="#f4f4f4"/><stop offset="0.342" stop-color="#f4f4f4"/><stop offset="0.380" stop-color="#f4f4f4"/><stop offset="0.418" stop-color="#f4f4f4"/><stop offset="0.457" stop-color="#f4f4f4"/><stop offset="0.495" stop-color="#f4f4f4"/><stop offset="0.534" stop-color="#f4f4f4"/><stop offset="0.572" stop-color="#f4f4f4"/><stop offset="0.611" stop-color="#f4f4f4"/><stop offset="0.650" stop-color="#f4f4f4"/><stop offset="0.688" stop-color="#f4f4f4"/><stop offset="0.727" stop-color="#f4f4f4"/><stop offset="0.766" stop-color="#f5f5f5"/><stop offset="0.805" stop-color="#f5f5f5"/><stop offset="0.844" stop-color="#f5f5f5"/><stop offset="0.883" stop-color="#f6f6f6"/><stop offset="0.922" stop-color="#f6f6f6"/><stop offset="0.961" stop-color="#f6f6f6"/><stop offset="1.000" stop-color="#f6f6f6"/><stop offset="1.000" stop-color="#f6f6f6"/></linearGradient><polyline points="603.3,500.0 611.1,490.0 618.9,480.0 626.8,470.0 634.7,460.0 642.6,450.0 650.6,440.0 658.5,430.0 666.5,420.0 674.6,410.0 682.6,400.0 690.7,390.0 698.9,380.0 707.0,370.0 715.2,360.0 723.4,350.0 731.7,340.0 740.0,330.0 748.3,320.0 756.6,310.0 765.0,300.0 773.4,290.0 781.8,280.0 790.2,270.0 798.7,260.0 807.3,250.0 815.8,240.0 815.8,240.0" fill="none" stroke="url(#ga37)" stroke-width="11.0" stroke-linecap="butt" stroke-linejoin="round"/><polyline points="76.3,500.0 82.5,490.0 88.8,480.0 95.1,470.0 101.6,460.0 108.2,450.0 114.8,440.0 121.5,430.0 128.3,420.0 135.3,410.0 142.3,400.0 149.3,390.0 156.5,380.0 163.8,370.0 171.2,360.0 178.6,350.0 186.2,340.0 193.8,330.0 201.5,320.0 209.3,310.0 217.2,300.0 225.2,290.0 233.3,280.0 241.5,270.0 249.7,260.0 258.1,250.0 266.5,240.0 266.5,240.0" fill="none" stroke="#f9f9f9" stroke-width="10.0" stroke-linecap="butt" stroke-linejoin="round"/><polyline points="96.3,500.0 102.5,490.0 108.8,480.0 115.1,470.0 121.6,460.0 128.2,450.0 134.8,440.0 141.5,430.0 148.3,420.0 155.3,410.0 162.3,400.0 169.3,390.0 176.5,380.0 183.8,370.0 191.2,360.0 198.6,350.0 206.2,340.0 213.8,330.0 221.5,320.0 229.3,310.0 237.2,300.0 245.2,290.0 253.3,280.0 261.5,270.0 269.7,260.0 278.1,250.0 286.5,240.0 286.5,240.0" fill="none" stroke="#f7f7f7" stroke-width="10.0" stroke-linecap="butt" stroke-linejoin="round"/><linearGradient id="ga38" gradientUnits="userSpaceOnUse" x1="114.3" y1="500.0" x2="304.5" y2="240.0"><stop offset="0.000" stop-color="#f4f4f4"/><stop offset="0.036" stop-color="#f4f4f4"/><stop offset="0.073" stop-color="#f4f4f4"/><stop offset="0.110" stop-color="#f4f4f4"/><stop offset="0.147" stop-color="#f5f5f5"/><stop offset="0.184" stop-color="#f5f5f5"/><stop offset="0.221" stop-color="#f5f5f5"/><stop offset="0.258" stop-color="#f5f5f5"/><stop offset="0.296" stop-color="#f6f6f6"/><stop offset="0.334" stop-color="#f6f6f6"/><stop offset="0.371" stop-color="#f6f6f6"/><stop offset="0.409" stop-color="#f5f5f5"/><stop offset="0.448" stop-color="#f5f5f5"/><stop offset="0.486" stop-color="#f4f4f4"/><stop offset="0.525" stop-color="#f4f4f4"/><stop offset="0.563" stop-color="#f4f4f4"/><stop offset="0.602" stop-color="#f3f3f3"/><stop offset="0.641" stop-color="#f3f3f3"/><stop offset="0.680" stop-color="#f3f3f3"/><stop offset="0.720" stop-color="#f3f3f3"/><stop offset="0.759" stop-color="#f2f2f2"/><stop offset="0.799" stop-color="#f2f2f2"/><stop offset="0.839" stop-color="#f2f2f2"/><stop offset="0.879" stop-color="#f2f2f2"/><stop offset="0.919" stop-color="#f2f2f2"/><stop offset="0.959" stop-color="#f2f2f2"/><stop offset="1.000" stop-color="#f2f2f2"/><stop offset="1.000" stop-color="#f2f2f2"/></linearGradient><polyline points="114.3,500.0 120.5,490.0 126.8,480.0 133.1,470.0 139.6,460.0 146.2,450.0 152.8,440.0 159.5,430.0 166.3,420.0 173.3,410.0 180.3,400.0 187.3,390.0 194.5,380.0 201.8,370.0 209.2,360.0 216.6,350.0 224.2,340.0 231.8,330.0 239.5,320.0 247.3,310.0 255.2,300.0 263.2,290.0 271.3,280.0 279.5,270.0 287.7,260.0 296.1,250.0 304.5,240.0 304.5,240.0" fill="none" stroke="url(#ga38)" stroke-width="10.0" stroke-linecap="butt" stroke-linejoin="round"/><linearGradient id="ga39" gradientUnits="userSpaceOnUse" x1="132.3" y1="500.0" x2="322.5" y2="240.0"><stop offset="0.000" stop-color="#f0f0f0"/><stop offset="0.036" stop-color="#f0f0f0"/><stop offset="0.073" stop-color="#f0f0f0"/><stop offset="0.110" stop-color="#f0f0f0"/><stop offset="0.147" stop-color="#f0f0f0"/><stop offset="0.184" stop-color="#f0f0f0"/><stop offset="0.221" stop-color="#f1f1f1"/><stop offset="0.258" stop-color="#f1f1f1"/><stop offset="0.296" stop-color="#f1f1f1"/><stop offset="0.334" stop-color="#f1f1f1"/><stop offset="0.371" stop-color="#f1f1f1"/><stop offset="0.409" stop-color="#f1f1f1"/><stop offset="0.448" stop-color="#f0f0f0"/><stop offset="0.486" stop-color="#f0f0f0"/><stop offset="0.525" stop-color="#f0f0f0"/><stop offset="0.563" stop-color="#f0f0f0"/><stop offset="0.602" stop-color="#efefef"/><stop offset="0.641" stop-color="#efefef"/><stop offset="0.680" stop-color="#eeeeee"/><stop offset="0.720" stop-color="#eeeeee"/><stop offset="0.759" stop-color="#eeeeee"/><stop offset="0.799" stop-color="#ededed"/><stop offset="0.839" stop-color="#ececec"/><stop offset="0.879" stop-color="#ececec"/><stop offset="0.919" stop-color="#ebebeb"/><stop offset="0.959" stop-color="#ebebeb"/><stop offset="1.000" stop-color="#ebebeb"/><stop offset="1.000" stop-color="#ebebeb"/></linearGradient><polyline points="132.3,500.0 138.5,490.0 144.8,480.0 151.1,470.0 157.6,460.0 164.2,450.0 170.8,440.0 177.5,430.0 184.3,420.0 191.3,410.0 198.3,400.0 205.3,390.0 212.5,380.0 219.8,370.0 227.2,360.0 234.6,350.0 242.2,340.0 249.8,330.0 257.5,320.0 265.3,310.0 273.2,300.0 281.2,290.0 289.3,280.0 297.5,270.0 305.7,260.0 314.1,250.0 322.5,240.0 322.5,240.0" fill="none" stroke="url(#ga39)" stroke-width="10.0" stroke-linecap="butt" stroke-linejoin="round"/><linearGradient id="ga40" gradientUnits="userSpaceOnUse" x1="150.3" y1="500.0" x2="340.5" y2="240.0"><stop offset="0.000" stop-color="#f0f0f0"/><stop offset="0.036" stop-color="#f0f0f0"/><stop offset="0.073" stop-color="#f0f0f0"/><stop offset="0.110" stop-color="#f0f0f0"/><stop offset="0.147" stop-color="#f0f0f0"/><stop offset="0.184" stop-color="#f0f0f0"/><stop offset="0.221" stop-color="#f0f0f0"/><stop offset="0.258" stop-color="#f0f0f0"/><stop offset="0.296" stop-color="#f0f0f0"/><stop offset="0.334" stop-color="#f0f0f0"/><stop offset="0.371" stop-color="#f0f0f0"/><stop offset="0.409" stop-color="#f0f0f0"/><stop offset="0.448" stop-color="#f0f0f0"/><stop offset="0.486" stop-color="#f0f0f0"/><stop offset="0.525" stop-color="#f0f0f0"/><stop offset="0.563" stop-color="#f0f0f0"/><stop offset="0.602" stop-color="#eeeeee"/><stop offset="0.641" stop-color="#ededed"/><stop offset="0.680" stop-color="#ececec"/><stop offset="0.720" stop-color="#ebebeb"/><stop offset="0.759" stop-color="#e9e9e9"/><stop offset="0.799" stop-color="#e8e8e8"/><stop offset="0.839" stop-color="#e3e3e3"/><stop offset="0.879" stop-color="#dedede"/><stop offset="0.919" stop-color="#dadada"/><stop offset="0.959" stop-color="#d9d9d9"/><stop offset="1.000" stop-color="#d9d9d9"/><stop offset="1.000" stop-color="#d9d9d9"/></linearGradient><polyline points="150.3,500.0 156.5,490.0 162.8,480.0 169.1,470.0 175.6,460.0 182.2,450.0 188.8,440.0 195.5,430.0 202.3,420.0 209.3,410.0 216.3,400.0 223.3,390.0 230.5,380.0 237.8,370.0 245.2,360.0 252.6,350.0 260.2,340.0 267.8,330.0 275.5,320.0 283.3,310.0 291.2,300.0 299.2,290.0 307.3,280.0 315.5,270.0 323.7,260.0 332.1,250.0 340.5,240.0 340.5,240.0" fill="none" stroke="url(#ga40)" stroke-width="10.0" stroke-linecap="butt" stroke-linejoin="round"/><linearGradient id="ga41" gradientUnits="userSpaceOnUse" x1="168.3" y1="500.0" x2="358.5" y2="240.0"><stop offset="0.000" stop-color="#f0f0f0"/><stop offset="0.036" stop-color="#f0f0f0"/><stop offset="0.073" stop-color="#f0f0f0"/><stop offset="0.110" stop-color="#f0f0f0"/><stop offset="0.147" stop-color="#f0f0f0"/><stop offset="0.184" stop-color="#f0f0f0"/><stop offset="0.221" stop-color="#f0f0f0"/><stop offset="0.258" stop-color="#f0f0f0"/><stop offset="0.296" stop-color="#f0f0f0"/><stop offset="0.334" stop-color="#f0f0f0"/><stop offset="0.371" stop-color="#f0f0f0"/><stop offset="0.409" stop-color="#f0f0f0"/><stop offset="0.448" stop-color="#f0f0f0"/><stop offset="0.486" stop-color="#f0f0f0"/><stop offset="0.525" stop-color="#f0f0f0"/><stop offset="0.563" stop-color="#f0f0f0"/><stop offset="0.602" stop-color="#ececec"/><stop offset="0.641" stop-color="#e8e8e8"/><stop offset="0.680" stop-color="#e4e4e4"/><stop offset="0.720" stop-color="#e0e0e0"/><stop offset="0.759" stop-color="#dddddd"/><stop offset="0.799" stop-color="#d9d9d9"/><stop offset="0.839" stop-color="#dbdbdb"/><stop offset="0.879" stop-color="#dedede"/><stop offset="0.919" stop-color="#e0e0e0"/><stop offset="0.959" stop-color="#e0e0e0"/><stop offset="1.000" stop-color="#e0e0e0"/><stop offset="1.000" stop-color="#e0e0e0"/></linearGradient><polyline points="168.3,500.0 174.5,490.0 180.8,480.0 187.1,470.0 193.6,460.0 200.2,450.0 206.8,440.0 213.5,430.0 220.3,420.0 227.3,410.0 234.3,400.0 241.3,390.0 248.5,380.0 255.8,370.0 263.2,360.0 270.6,350.0 278.2,340.0 285.8,330.0 293.5,320.0 301.3,310.0 309.2,300.0 317.2,290.0 325.3,280.0 333.5,270.0 341.7,260.0 350.1,250.0 358.5,240.0 358.5,240.0" fill="none" stroke="url(#ga41)" stroke-width="10.0" stroke-linecap="butt" stroke-linejoin="round"/><linearGradient id="ga42" gradientUnits="userSpaceOnUse" x1="186.3" y1="500.0" x2="376.5" y2="240.0"><stop offset="0.000" stop-color="#f0f0f0"/><stop offset="0.036" stop-color="#f0f0f0"/><stop offset="0.073" stop-color="#f0f0f0"/><stop offset="0.110" stop-color="#f0f0f0"/><stop offset="0.147" stop-color="#f0f0f0"/><stop offset="0.184" stop-color="#f0f0f0"/><stop offset="0.221" stop-color="#f0f0f0"/><stop offset="0.258" stop-color="#f0f0f0"/><stop offset="0.296" stop-color="#f0f0f0"/><stop offset="0.334" stop-color="#f0f0f0"/><stop offset="0.371" stop-color="#eeeeee"/><stop offset="0.409" stop-color="#ececec"/><stop offset="0.448" stop-color="#ebebeb"/><stop offset="0.486" stop-color="#e9e9e9"/><stop offset="0.525" stop-color="#e7e7e7"/><stop offset="0.563" stop-color="#e6e6e6"/><stop offset="0.602" stop-color="#e1e1e1"/><stop offset="0.641" stop-color="#dddddd"/><stop offset="0.680" stop-color="#d9d9d9"/><stop offset="0.720" stop-color="#d4d4d4"/><stop offset="0.759" stop-color="#d0d0d0"/><stop offset="0.799" stop-color="#cccccc"/><stop offset="0.839" stop-color="#c9c9c9"/><stop offset="0.879" stop-color="#c6c6c6"/><stop offset="0.919" stop-color="#c2c2c2"/><stop offset="0.959" stop-color="#c2c2c2"/><stop offset="1.000" stop-color="#c2c2c2"/><stop offset="1.000" stop-color="#c2c2c2"/></linearGradient><polyline points="186.3,500.0 192.5,490.0 198.8,480.0 205.1,470.0 211.6,460.0 218.2,450.0 224.8,440.0 231.5,430.0 238.3,420.0 245.3,410.0 252.3,400.0 259.3,390.0 266.5,380.0 273.8,370.0 281.2,360.0 288.6,350.0 296.2,340.0 303.8,330.0 311.5,320.0 319.3,310.0 327.2,300.0 335.2,290.0 343.3,280.0 351.5,270.0 359.7,260.0 368.1,250.0 376.5,240.0 376.5,240.0" fill="none" stroke="url(#ga42)" stroke-width="10.0" stroke-linecap="butt" stroke-linejoin="round"/><linearGradient id="ga43" gradientUnits="userSpaceOnUse" x1="202.3" y1="500.0" x2="393.3" y2="240.0"><stop offset="0.000" stop-color="#ededed"/><stop offset="0.036" stop-color="#ededed"/><stop offset="0.073" stop-color="#eeeeee"/><stop offset="0.110" stop-color="#eeeeee"/><stop offset="0.147" stop-color="#eeeeee"/><stop offset="0.184" stop-color="#eeeeee"/><stop offset="0.221" stop-color="#efefef"/><stop offset="0.258" stop-color="#efefef"/><stop offset="0.296" stop-color="#efefef"/><stop offset="0.334" stop-color="#f0f0f0"/><stop offset="0.371" stop-color="#ebebeb"/><stop offset="0.409" stop-color="#e5e5e5"/><stop offset="0.448" stop-color="#e0e0e0"/><stop offset="0.486" stop-color="#dbdbdb"/><stop offset="0.525" stop-color="#d6d6d6"/><stop offset="0.563" stop-color="#d1d1d1"/><stop offset="0.602" stop-color="#cecece"/><stop offset="0.641" stop-color="#cbcbcb"/><stop offset="0.680" stop-color="#c8c8c8"/><stop offset="0.720" stop-color="#c5c5c5"/><stop offset="0.759" stop-color="#c2c2c2"/><stop offset="0.799" stop-color="#bfbfbf"/><stop offset="0.839" stop-color="#c0c0c0"/><stop offset="0.879" stop-color="#c1c1c1"/><stop offset="0.919" stop-color="#c2c2c2"/><stop offset="0.959" stop-color="#c2c2c2"/><stop offset="1.000" stop-color="#c2c2c2"/><stop offset="1.000" stop-color="#c2c2c2"/></linearGradient><polyline points="202.3,500.0 208.5,490.0 214.8,480.0 221.2,470.0 227.7,460.0 234.3,450.0 241.0,440.0 247.7,430.0 254.6,420.0 261.5,410.0 268.5,400.0 275.7,390.0 282.9,380.0 290.2,370.0 297.6,360.0 305.0,350.0 312.6,340.0 320.3,330.0 328.0,320.0 335.9,310.0 343.8,300.0 351.8,290.0 359.9,280.0 368.1,270.0 376.4,260.0 384.8,250.0 393.3,240.0 393.3,240.0" fill="none" stroke="url(#ga43)" stroke-width="10.0" stroke-linecap="butt" stroke-linejoin="round"/><linearGradient id="ga44" gradientUnits="userSpaceOnUse" x1="218.2" y1="500.0" x2="411.3" y2="240.0"><stop offset="0.000" stop-color="#e6e6e6"/><stop offset="0.036" stop-color="#e6e6e6"/><stop offset="0.073" stop-color="#e6e6e6"/><stop offset="0.110" stop-color="#e6e6e6"/><stop offset="0.147" stop-color="#e6e6e6"/><stop offset="0.184" stop-color="#e6e6e6"/><stop offset="0.221" stop-color="#e6e6e6"/><stop offset="0.258" stop-color="#e6e6e6"/><stop offset="0.296" stop-color="#e6e6e6"/><stop offset="0.333" stop-color="#e6e6e6"/><stop offset="0.371" stop-color="#e4e4e4"/><stop offset="0.409" stop-color="#e2e2e2"/><stop offset="0.448" stop-color="#e0e0e0"/><stop offset="0.486" stop-color="#dfdfdf"/><stop offset="0.525" stop-color="#dddddd"/><stop offset="0.563" stop-color="#dbdbdb"/><stop offset="0.602" stop-color="#d6d6d6"/><stop offset="0.641" stop-color="#d1d1d1"/><stop offset="0.680" stop-color="#cccccc"/><stop offset="0.720" stop-color="#c7c7c7"/><stop offset="0.759" stop-color="#c2c2c2"/><stop offset="0.799" stop-color="#bdbdbd"/><stop offset="0.839" stop-color="#c1c1c1"/><stop offset="0.879" stop-color="#c6c6c6"/><stop offset="0.919" stop-color="#cbcbcb"/><stop offset="0.959" stop-color="#cccccc"/><stop offset="1.000" stop-color="#cccccc"/><stop offset="1.000" stop-color="#cccccc"/></linearGradient><polyline points="218.2,500.0 224.5,490.0 230.9,480.0 237.4,470.0 244.0,460.0 250.6,450.0 257.4,440.0 264.2,430.0 271.2,420.0 278.2,410.0 285.3,400.0 292.5,390.0 299.8,380.0 307.2,370.0 314.6,360.0 322.2,350.0 329.8,340.0 337.6,330.0 345.4,320.0 353.3,310.0 361.4,300.0 369.5,290.0 377.6,280.0 385.9,270.0 394.3,260.0 402.8,250.0 411.3,240.0 411.3,240.0" fill="none" stroke="url(#ga44)" stroke-width="10.0" stroke-linecap="butt" stroke-linejoin="round"/><linearGradient id="ga45" gradientUnits="userSpaceOnUse" x1="236.2" y1="500.0" x2="431.6" y2="240.0"><stop offset="0.000" stop-color="#e0e0e0"/><stop offset="0.036" stop-color="#dfdfdf"/><stop offset="0.073" stop-color="#dbdbdb"/><stop offset="0.110" stop-color="#d7d7d7"/><stop offset="0.147" stop-color="#d3d3d3"/><stop offset="0.184" stop-color="#cfcfcf"/><stop offset="0.221" stop-color="#cbcbcb"/><stop offset="0.258" stop-color="#c7c7c7"/><stop offset="0.296" stop-color="#c3c3c3"/><stop offset="0.333" stop-color="#bfbfbf"/><stop offset="0.371" stop-color="#bfbfbf"/><stop offset="0.409" stop-color="#bfbfbf"/><stop offset="0.448" stop-color="#bfbfbf"/><stop offset="0.486" stop-color="#bfbfbf"/><stop offset="0.524" stop-color="#bfbfbf"/><stop offset="0.563" stop-color="#bfbfbf"/><stop offset="0.602" stop-color="#bfbfbf"/><stop offset="0.641" stop-color="#bfbfbf"/><stop offset="0.680" stop-color="#bfbfbf"/><stop offset="0.720" stop-color="#bfbfbf"/><stop offset="0.759" stop-color="#bfbfbf"/><stop offset="0.799" stop-color="#bfbfbf"/><stop offset="0.839" stop-color="#c0c0c0"/><stop offset="0.879" stop-color="#c1c1c1"/><stop offset="0.919" stop-color="#c2c2c2"/><stop offset="0.959" stop-color="#c2c2c2"/><stop offset="1.000" stop-color="#c2c2c2"/><stop offset="1.000" stop-color="#c2c2c2"/></linearGradient><polyline points="236.2,500.0 242.6,490.0 249.0,480.0 255.6,470.0 262.3,460.0 269.0,450.0 275.9,440.0 282.8,430.0 289.8,420.0 296.9,410.0 304.1,400.0 311.4,390.0 318.8,380.0 326.3,370.0 333.8,360.0 341.5,350.0 349.2,340.0 357.1,330.0 365.0,320.0 373.0,310.0 381.1,300.0 389.3,290.0 397.6,280.0 405.9,270.0 414.4,260.0 423.0,250.0 431.6,240.0 431.6,240.0" fill="none" stroke="url(#ga45)" stroke-width="10.0" stroke-linecap="butt" stroke-linejoin="round"/><linearGradient id="ga46" gradientUnits="userSpaceOnUse" x1="254.1" y1="500.0" x2="451.9" y2="240.0"><stop offset="0.000" stop-color="#c7c7c7"/><stop offset="0.036" stop-color="#c7c7c7"/><stop offset="0.073" stop-color="#c9c9c9"/><stop offset="0.110" stop-color="#cacaca"/><stop offset="0.147" stop-color="#cbcbcb"/><stop offset="0.184" stop-color="#cccccc"/><stop offset="0.221" stop-color="#cdcdcd"/><stop offset="0.258" stop-color="#cfcfcf"/><stop offset="0.296" stop-color="#d0d0d0"/><stop offset="0.333" stop-color="#d1d1d1"/><stop offset="0.371" stop-color="#d1d1d1"/><stop offset="0.409" stop-color="#d1d1d1"/><stop offset="0.448" stop-color="#d1d1d1"/><stop offset="0.486" stop-color="#d1d1d1"/><stop offset="0.524" stop-color="#d1d1d1"/><stop offset="0.563" stop-color="#d1d1d1"/><stop offset="0.602" stop-color="#d4d4d4"/><stop offset="0.641" stop-color="#d6d6d6"/><stop offset="0.680" stop-color="#d9d9d9"/><stop offset="0.720" stop-color="#dbdbdb"/><stop offset="0.759" stop-color="#dedede"/><stop offset="0.799" stop-color="#e0e0e0"/><stop offset="0.839" stop-color="#e0e0e0"/><stop offset="0.879" stop-color="#e0e0e0"/><stop offset="0.919" stop-color="#e0e0e0"/><stop offset="0.959" stop-color="#e0e0e0"/><stop offset="1.000" stop-color="#e0e0e0"/><stop offset="1.000" stop-color="#e0e0e0"/></linearGradient><polyline points="254.1,500.0 260.6,490.0 267.2,480.0 273.8,470.0 280.6,460.0 287.4,450.0 294.4,440.0 301.4,430.0 308.5,420.0 315.7,410.0 323.0,400.0 330.4,390.0 337.8,380.0 345.4,370.0 353.0,360.0 360.8,350.0 368.6,340.0 376.5,330.0 384.6,320.0 392.7,310.0 400.8,300.0 409.1,290.0 417.5,280.0 426.0,270.0 434.5,260.0 443.1,250.0 451.9,240.0 451.9,240.0" fill="none" stroke="url(#ga46)" stroke-width="10.0" stroke-linecap="butt" stroke-linejoin="round"/><linearGradient id="ga47" gradientUnits="userSpaceOnUse" x1="272.1" y1="500.0" x2="472.2" y2="240.0"><stop offset="0.000" stop-color="#bfbfbf"/><stop offset="0.036" stop-color="#bfbfbf"/><stop offset="0.073" stop-color="#bfbfbf"/><stop offset="0.110" stop-color="#bfbfbf"/><stop offset="0.146" stop-color="#bfbfbf"/><stop offset="0.184" stop-color="#bfbfbf"/><stop offset="0.221" stop-color="#bfbfbf"/><stop offset="0.258" stop-color="#bfbfbf"/><stop offset="0.296" stop-color="#bfbfbf"/><stop offset="0.333" stop-color="#bfbfbf"/><stop offset="0.371" stop-color="#bfbfbf"/><stop offset="0.409" stop-color="#bfbfbf"/><stop offset="0.447" stop-color="#bfbfbf"/><stop offset="0.486" stop-color="#bfbfbf"/><stop offset="0.524" stop-color="#bfbfbf"/><stop offset="0.563" stop-color="#bfbfbf"/><stop offset="0.602" stop-color="#c6c6c6"/><stop offset="0.641" stop-color="#cccccc"/><stop offset="0.680" stop-color="#d2d2d2"/><stop offset="0.720" stop-color="#d9d9d9"/><stop offset="0.759" stop-color="#dfdfdf"/><stop offset="0.799" stop-color="#e6e6e6"/><stop offset="0.839" stop-color="#e6e6e6"/><stop offset="0.879" stop-color="#e6e6e6"/><stop offset="0.919" stop-color="#e6e6e6"/><stop offset="0.959" stop-color="#e6e6e6"/><stop offset="1.000" stop-color="#e6e6e6"/><stop offset="1.000" stop-color="#e6e6e6"/></linearGradient><polyline points="272.1,500.0 278.6,490.0 285.3,480.0 292.1,470.0 298.9,460.0 305.8,450.0 312.8,440.0 320.0,430.0 327.2,420.0 334.4,410.0 341.8,400.0 349.3,390.0 356.9,380.0 364.5,370.0 372.3,360.0 380.1,350.0 388.0,340.0 396.0,330.0 404.1,320.0 412.3,310.0 420.6,300.0 429.0,290.0 437.4,280.0 446.0,270.0 454.6,260.0 463.3,250.0 472.2,240.0 472.2,240.0" fill="none" stroke="url(#ga47)" stroke-width="10.0" stroke-linecap="butt" stroke-linejoin="round"/><linearGradient id="ga48" gradientUnits="userSpaceOnUse" x1="290.0" y1="500.0" x2="491.8" y2="240.0"><stop offset="0.000" stop-color="#999999"/><stop offset="0.037" stop-color="#989898"/><stop offset="0.073" stop-color="#959595"/><stop offset="0.110" stop-color="#929292"/><stop offset="0.147" stop-color="#8f8f8f"/><stop offset="0.184" stop-color="#8c8c8c"/><stop offset="0.221" stop-color="#898989"/><stop offset="0.259" stop-color="#868686"/><stop offset="0.296" stop-color="#838383"/><stop offset="0.334" stop-color="#808080"/><stop offset="0.372" stop-color="#8c8c8c"/><stop offset="0.410" stop-color="#999999"/><stop offset="0.448" stop-color="#a6a6a6"/><stop offset="0.487" stop-color="#b2b2b2"/><stop offset="0.525" stop-color="#bfbfbf"/><stop offset="0.564" stop-color="#cccccc"/><stop offset="0.603" stop-color="#d1d1d1"/><stop offset="0.642" stop-color="#d6d6d6"/><stop offset="0.681" stop-color="#dbdbdb"/><stop offset="0.720" stop-color="#e0e0e0"/><stop offset="0.760" stop-color="#e6e6e6"/><stop offset="0.799" stop-color="#ebebeb"/><stop offset="0.839" stop-color="#ededed"/><stop offset="0.879" stop-color="#efefef"/><stop offset="0.919" stop-color="#f2f2f2"/><stop offset="0.960" stop-color="#f2f2f2"/><stop offset="1.000" stop-color="#f2f2f2"/><stop offset="1.000" stop-color="#f2f2f2"/></linearGradient><polyline points="290.0,500.0 296.7,490.0 303.5,480.0 310.4,470.0 317.3,460.0 324.4,450.0 331.5,440.0 338.7,430.0 346.0,420.0 353.4,410.0 360.9,400.0 368.4,390.0 376.1,380.0 383.8,370.0 391.6,360.0 399.5,350.0 407.4,340.0 415.5,330.0 423.6,320.0 431.9,310.0 440.2,300.0 448.6,290.0 457.0,280.0 465.6,270.0 474.2,260.0 483.0,250.0 491.8,240.0 491.8,240.0" fill="none" stroke="url(#ga48)" stroke-width="10.0" stroke-linecap="butt" stroke-linejoin="round"/><linearGradient id="ga49" gradientUnits="userSpaceOnUse" x1="307.9" y1="500.0" x2="511.2" y2="240.0"><stop offset="0.000" stop-color="#737373"/><stop offset="0.037" stop-color="#757575"/><stop offset="0.074" stop-color="#7b7b7b"/><stop offset="0.110" stop-color="#818181"/><stop offset="0.148" stop-color="#878787"/><stop offset="0.185" stop-color="#8d8d8d"/><stop offset="0.222" stop-color="#949494"/><stop offset="0.260" stop-color="#9a9a9a"/><stop offset="0.297" stop-color="#a0a0a0"/><stop offset="0.335" stop-color="#a6a6a6"/><stop offset="0.373" stop-color="#aeaeae"/><stop offset="0.411" stop-color="#b7b7b7"/><stop offset="0.450" stop-color="#bfbfbf"/><stop offset="0.488" stop-color="#c8c8c8"/><stop offset="0.527" stop-color="#d0d0d0"/><stop offset="0.565" stop-color="#d9d9d9"/><stop offset="0.604" stop-color="#dddddd"/><stop offset="0.643" stop-color="#e0e0e0"/><stop offset="0.682" stop-color="#e4e4e4"/><stop offset="0.721" stop-color="#e8e8e8"/><stop offset="0.761" stop-color="#ececec"/><stop offset="0.800" stop-color="#f0f0f0"/><stop offset="0.840" stop-color="#f1f1f1"/><stop offset="0.880" stop-color="#f3f3f3"/><stop offset="0.920" stop-color="#f4f4f4"/><stop offset="0.960" stop-color="#f5f5f5"/><stop offset="1.000" stop-color="#f5f5f5"/><stop offset="1.000" stop-color="#f5f5f5"/></linearGradient><polyline points="307.9,500.0 314.8,490.0 321.7,480.0 328.7,470.0 335.8,460.0 343.0,450.0 350.2,440.0 357.6,430.0 365.0,420.0 372.4,410.0 380.0,400.0 387.6,390.0 395.3,380.0 403.1,370.0 411.0,360.0 418.9,350.0 426.9,340.0 435.0,330.0 443.2,320.0 451.4,310.0 459.7,300.0 468.1,290.0 476.6,280.0 485.1,270.0 493.7,260.0 502.4,250.0 511.2,240.0 511.2,240.0" fill="none" stroke="url(#ga49)" stroke-width="10.0" stroke-linecap="butt" stroke-linejoin="round"/><linearGradient id="ga50" gradientUnits="userSpaceOnUse" x1="325.8" y1="500.0" x2="530.6" y2="240.0"><stop offset="0.000" stop-color="#b2b2b2"/><stop offset="0.037" stop-color="#b0b0b0"/><stop offset="0.074" stop-color="#aaaaaa"/><stop offset="0.111" stop-color="#a4a4a4"/><stop offset="0.148" stop-color="#9e9e9e"/><stop offset="0.186" stop-color="#989898"/><stop offset="0.223" stop-color="#929292"/><stop offset="0.261" stop-color="#8c8c8c"/><stop offset="0.298" stop-color="#868686"/><stop offset="0.336" stop-color="#808080"/><stop offset="0.374" stop-color="#888888"/><stop offset="0.412" stop-color="#909090"/><stop offset="0.451" stop-color="#999999"/><stop offset="0.489" stop-color="#a2a2a2"/><stop offset="0.528" stop-color="#aaaaaa"/><stop offset="0.566" stop-color="#b2b2b2"/><stop offset="0.605" stop-color="#bdbdbd"/><stop offset="0.644" stop-color="#c7c7c7"/><stop offset="0.683" stop-color="#d2d2d2"/><stop offset="0.722" stop-color="#dcdcdc"/><stop offset="0.762" stop-color="#e7e7e7"/><stop offset="0.801" stop-color="#f1f1f1"/><stop offset="0.841" stop-color="#f2f2f2"/><stop offset="0.880" stop-color="#f3f3f3"/><stop offset="0.920" stop-color="#f5f5f5"/><stop offset="0.960" stop-color="#f5f5f5"/><stop offset="1.000" stop-color="#f5f5f5"/><stop offset="1.000" stop-color="#f5f5f5"/></linearGradient><polyline points="325.8,500.0 332.8,490.0 339.9,480.0 347.1,470.0 354.3,460.0 361.6,450.0 369.0,440.0 376.4,430.0 383.9,420.0 391.5,410.0 399.1,400.0 406.8,390.0 414.6,380.0 422.4,370.0 430.3,360.0 438.3,350.0 446.4,340.0 454.5,330.0 462.7,320.0 470.9,310.0 479.3,300.0 487.7,290.0 496.1,280.0 504.6,270.0 513.2,260.0 521.9,250.0 530.6,240.0 530.6,240.0" fill="none" stroke="url(#ga50)" stroke-width="10.0" stroke-linecap="butt" stroke-linejoin="round"/><linearGradient id="ga51" gradientUnits="userSpaceOnUse" x1="345.7" y1="500.0" x2="552.2" y2="240.0"><stop offset="0.000" stop-color="#b2b2b2"/><stop offset="0.037" stop-color="#b3b3b3"/><stop offset="0.074" stop-color="#b4b4b4"/><stop offset="0.112" stop-color="#b5b5b5"/><stop offset="0.149" stop-color="#b7b7b7"/><stop offset="0.186" stop-color="#b8b8b8"/><stop offset="0.224" stop-color="#b9b9b9"/><stop offset="0.262" stop-color="#bababa"/><stop offset="0.300" stop-color="#bbbbbb"/><stop offset="0.338" stop-color="#bdbdbd"/><stop offset="0.376" stop-color="#c1c1c1"/><stop offset="0.414" stop-color="#c5c5c5"/><stop offset="0.452" stop-color="#c9c9c9"/><stop offset="0.491" stop-color="#cecece"/><stop offset="0.529" stop-color="#d2d2d2"/><stop offset="0.568" stop-color="#d6d6d6"/><stop offset="0.606" stop-color="#dbdbdb"/><stop offset="0.645" stop-color="#dfdfdf"/><stop offset="0.684" stop-color="#e4e4e4"/><stop offset="0.723" stop-color="#e8e8e8"/><stop offset="0.762" stop-color="#ededed"/><stop offset="0.802" stop-color="#f1f1f1"/><stop offset="0.841" stop-color="#f2f2f2"/><stop offset="0.881" stop-color="#f3f3f3"/><stop offset="0.920" stop-color="#f5f5f5"/><stop offset="0.960" stop-color="#f5f5f5"/><stop offset="1.000" stop-color="#f5f5f5"/><stop offset="1.000" stop-color="#f5f5f5"/></linearGradient><polyline points="345.7,500.0 352.9,490.0 360.1,480.0 367.5,470.0 374.8,460.0 382.3,450.0 389.8,440.0 397.3,430.0 404.9,420.0 412.6,410.0 420.3,400.0 428.1,390.0 436.0,380.0 443.9,370.0 451.9,360.0 459.9,350.0 468.0,340.0 476.1,330.0 484.4,320.0 492.6,310.0 501.0,300.0 509.4,290.0 517.8,280.0 526.3,270.0 534.9,260.0 543.5,250.0 552.2,240.0 552.2,240.0" fill="none" stroke="url(#ga51)" stroke-width="10.0" stroke-linecap="butt" stroke-linejoin="round"/><linearGradient id="ga52" gradientUnits="userSpaceOnUse" x1="365.6" y1="500.0" x2="573.8" y2="240.0"><stop offset="0.000" stop-color="#b8b8b8"/><stop offset="0.037" stop-color="#b8b8b8"/><stop offset="0.075" stop-color="#b9b9b9"/><stop offset="0.112" stop-color="#bbbbbb"/><stop offset="0.150" stop-color="#bcbcbc"/><stop offset="0.187" stop-color="#bdbdbd"/><stop offset="0.225" stop-color="#bebebe"/><stop offset="0.263" stop-color="#bfbfbf"/><stop offset="0.301" stop-color="#c1c1c1"/><stop offset="0.339" stop-color="#c2c2c2"/><stop offset="0.377" stop-color="#c6c6c6"/><stop offset="0.415" stop-color="#cacaca"/><stop offset="0.453" stop-color="#cfcfcf"/><stop offset="0.492" stop-color="#d3d3d3"/><stop offset="0.530" stop-color="#d7d7d7"/><stop offset="0.569" stop-color="#dbdbdb"/><stop offset="0.608" stop-color="#dfdfdf"/><stop offset="0.646" stop-color="#e3e3e3"/><stop offset="0.685" stop-color="#e6e6e6"/><stop offset="0.724" stop-color="#eaeaea"/><stop offset="0.763" stop-color="#ededed"/><stop offset="0.803" stop-color="#f1f1f1"/><stop offset="0.842" stop-color="#f3f3f3"/><stop offset="0.881" stop-color="#f4f4f4"/><stop offset="0.921" stop-color="#f6f6f6"/><stop offset="0.960" stop-color="#f6f6f6"/><stop offset="1.000" stop-color="#f6f6f6"/><stop offset="1.000" stop-color="#f6f6f6"/></linearGradient><polyline points="365.6,500.0 373.0,490.0 380.4,480.0 387.8,470.0 395.4,460.0 402.9,450.0 410.6,440.0 418.2,430.0 426.0,420.0 433.7,410.0 441.6,400.0 449.4,390.0 457.4,380.0 465.4,370.0 473.4,360.0 481.5,350.0 489.6,340.0 497.8,330.0 506.0,320.0 514.3,310.0 522.7,300.0 531.1,290.0 539.5,280.0 548.0,270.0 556.6,260.0 565.2,250.0 573.8,240.0 573.8,240.0" fill="none" stroke="url(#ga52)" stroke-width="10.0" stroke-linecap="butt" stroke-linejoin="round"/><linearGradient id="ga53" gradientUnits="userSpaceOnUse" x1="385.5" y1="500.0" x2="595.4" y2="240.0"><stop offset="0.000" stop-color="#bdbdbd"/><stop offset="0.037" stop-color="#bdbdbd"/><stop offset="0.075" stop-color="#bebebe"/><stop offset="0.113" stop-color="#c0c0c0"/><stop offset="0.150" stop-color="#c1c1c1"/><stop offset="0.188" stop-color="#c2c2c2"/><stop offset="0.226" stop-color="#c3c3c3"/><stop offset="0.264" stop-color="#c4c4c4"/><stop offset="0.302" stop-color="#c6c6c6"/><stop offset="0.340" stop-color="#c7c7c7"/><stop offset="0.378" stop-color="#cacaca"/><stop offset="0.416" stop-color="#cecece"/><stop offset="0.455" stop-color="#d1d1d1"/><stop offset="0.493" stop-color="#d4d4d4"/><stop offset="0.532" stop-color="#d8d8d8"/><stop offset="0.570" stop-color="#dbdbdb"/><stop offset="0.609" stop-color="#dfdfdf"/><stop offset="0.648" stop-color="#e3e3e3"/><stop offset="0.687" stop-color="#e7e7e7"/><stop offset="0.725" stop-color="#ebebeb"/><stop offset="0.764" stop-color="#eeeeee"/><stop offset="0.803" stop-color="#f2f2f2"/><stop offset="0.843" stop-color="#f3f3f3"/><stop offset="0.882" stop-color="#f5f5f5"/><stop offset="0.921" stop-color="#f6f6f6"/><stop offset="0.961" stop-color="#f6f6f6"/><stop offset="1.000" stop-color="#f6f6f6"/><stop offset="1.000" stop-color="#f6f6f6"/></linearGradient><polyline points="385.5,500.0 393.0,490.0 400.6,480.0 408.2,470.0 415.9,460.0 423.6,450.0 431.4,440.0 439.2,430.0 447.0,420.0 454.9,410.0 462.8,400.0 470.8,390.0 478.8,380.0 486.8,370.0 494.9,360.0 503.1,350.0 511.2,340.0 519.5,330.0 527.7,320.0 536.0,310.0 544.4,300.0 552.8,290.0 561.2,280.0 569.7,270.0 578.2,260.0 586.8,250.0 595.4,240.0 595.4,240.0" fill="none" stroke="url(#ga53)" stroke-width="10.0" stroke-linecap="butt" stroke-linejoin="round"/></g></g></g><g filter="url(#b2)"><linearGradient id="ga55" gradientUnits="userSpaceOnUse" x1="446.0" y1="500.0" x2="530.0" y2="300.0"><stop offset="0.000" stop-color="#9e9e9e"/><stop offset="0.087" stop-color="#b2b2b2"/><stop offset="0.301" stop-color="#bdbdbd"/><stop offset="0.579" stop-color="#bfbfbf"/><stop offset="0.743" stop-color="#c7c7c7"/><stop offset="0.900" stop-color="#dbdbdb"/><stop offset="1.000" stop-color="#e6e6e6"/></linearGradient><polyline points="446.0,500.0 452.0,482.0 472.0,440.0 492.0,383.0 505.0,350.0 519.0,319.0 530.0,300.0" fill="none" stroke="url(#ga55)" stroke-width="10.0" stroke-linecap="round" stroke-linejoin="round"/><linearGradient id="ga56" gradientUnits="userSpaceOnUse" x1="422.0" y1="500.0" x2="444.0" y2="445.0"><stop offset="0.000" stop-color="#595959"/><stop offset="0.169" stop-color="#595959"/><stop offset="0.715" stop-color="#737373"/><stop offset="1.000" stop-color="#b2b2b2"/></linearGradient><polyline points="422.0,500.0 424.0,490.0 436.0,460.0 444.0,445.0" fill="none" stroke="url(#ga56)" stroke-width="6.0" stroke-linecap="round" stroke-linejoin="round"/><linearGradient id="ga57" gradientUnits="userSpaceOnUse" x1="438.0" y1="500.0" x2="462.0" y2="440.0"><stop offset="0.000" stop-color="#808080"/><stop offset="0.155" stop-color="#808080"/><stop offset="0.655" stop-color="#8c8c8c"/><stop offset="1.000" stop-color="#b2b2b2"/></linearGradient><polyline points="438.0,500.0 440.0,490.0 452.0,460.0 462.0,440.0" fill="none" stroke="url(#ga57)" stroke-width="6.0" stroke-linecap="round" stroke-linejoin="round"/></g><g filter="url(#b6)"><polygon points="206.0,0.0 460.0,0.0 460.0,270.0 188.0,270.0 196.0,200.0 200.0,120.0" fill="#f4f4f4"/><polygon points="256.0,0.0 450.0,0.0 450.0,270.0 246.0,270.0 236.0,180.0 240.0,100.0" fill="#f0f0f0"/><polygon points="290.0,40.0 440.0,40.0 445.0,270.0 285.0,270.0 275.0,150.0" fill="#ececec"/></g><g filter="url(#b3)"><clipPath id="ca58"><rect x="0.0" y="197.0" width="700.0" height="62.0"/></clipPath><g><g clip-path="url(#ca58)"><polyline points="231.6,270.0 291.1,185.0" fill="none" stroke="#f2f2f2" stroke-width="25.0" stroke-linecap="butt" stroke-linejoin="round"/><polyline points="256.6,270.0 316.1,185.0" fill="none" stroke="#f0f0f0" stroke-width="25.0" stroke-linecap="butt" stroke-linejoin="round"/><polyline points="281.6,270.0 341.1,185.0" fill="none" stroke="#ebebeb" stroke-width="25.0" stroke-linecap="butt" stroke-linejoin="round"/><polyline points="303.6,270.0 363.1,185.0" fill="none" stroke="#e6e6e6" stroke-width="25.0" stroke-linecap="butt" stroke-linejoin="round"/><polyline points="324.6,270.0 384.1,185.0" fill="none" stroke="#e0e0e0" stroke-width="25.0" stroke-linecap="butt" stroke-linejoin="round"/><polyline points="353.6,270.0 413.1,185.0" fill="none" stroke="#dbdbdb" stroke-width="25.0" stroke-linecap="butt" stroke-linejoin="round"/><polyline points="376.6,270.0 436.1,185.0" fill="none" stroke="#dedede" stroke-width="25.0" stroke-linecap="butt" stroke-linejoin="round"/><polyline points="401.6,270.0 461.1,185.0" fill="none" stroke="#ebebeb" stroke-width="25.0" stroke-linecap="butt" stroke-linejoin="round"/><polyline points="425.6,270.0 485.1,185.0" fill="none" stroke="#f0f0f0" stroke-width="25.0" stroke-linecap="butt" stroke-linejoin="round"/><polyline points="449.6,270.0 509.1,185.0" fill="none" stroke="#f4f4f4" stroke-width="25.0" stroke-linecap="butt" stroke-linejoin="round"/><polyline points="473.6,270.0 533.1,185.0" fill="none" stroke="#f7f7f7" stroke-width="25.0" stroke-linecap="butt" stroke-linejoin="round"/></g></g></g><g filter="url(#b2)"><clipPath id="ca59"><rect x="0.0" y="197.0" width="700.0" height="62.0"/></clipPath><g><g clip-path="url(#ca59)"><polyline points="281.6,270.0 341.1,185.0" fill="none" stroke="#e8e8e8" stroke-width="11.0" stroke-linecap="butt" stroke-linejoin="round"/><polyline points="303.6,270.0 363.1,185.0" fill="none" stroke="#dbdbdb" stroke-width="11.0" stroke-linecap="butt" stroke-linejoin="round"/><polyline points="324.6,270.0 384.1,185.0" fill="none" stroke="#d1d1d1" stroke-width="11.0" stroke-linecap="butt" stroke-linejoin="round"/><polyline points="353.6,270.0 413.1,185.0" fill="none" stroke="#bfbfbf" stroke-width="11.0" stroke-linecap="butt" stroke-linejoin="round"/><polyline points="376.6,270.0 436.1,185.0" fill="none" stroke="#c7c7c7" stroke-width="11.0" stroke-linecap="butt" stroke-linejoin="round"/><polyline points="401.6,270.0 461.1,185.0" fill="none" stroke="#e0e0e0" stroke-width="11.0" stroke-linecap="butt" stroke-linejoin="round"/><polyline points="425.6,270.0 485.1,185.0" fill="none" stroke="#ededed" stroke-width="11.0" stroke-linecap="butt" stroke-linejoin="round"/></g></g></g><g filter="url(#b3)"><clipPath id="ca60"><rect x="0.0" y="129.0" width="700.0" height="69.0"/></clipPath><g><g clip-path="url(#ca60)"><polyline points="229.4,209.0 295.6,117.0" fill="none" stroke="#f4f4f4" stroke-width="25.0" stroke-linecap="butt" stroke-linejoin="round"/><polyline points="251.4,209.0 317.6,117.0" fill="none" stroke="#f1f1f1" stroke-width="25.0" stroke-linecap="butt" stroke-linejoin="round"/><polyline points="274.4,209.0 340.6,117.0" fill="none" stroke="#ebebeb" stroke-width="25.0" stroke-linecap="butt" stroke-linejoin="round"/><polyline points="296.4,209.0 362.6,117.0" fill="none" stroke="#e6e6e6" stroke-width="25.0" stroke-linecap="butt" stroke-linejoin="round"/><polyline points="318.4,209.0 384.6,117.0" fill="none" stroke="#dbdbdb" stroke-width="25.0" stroke-linecap="butt" stroke-linejoin="round"/><polyline points="341.4,209.0 407.6,117.0" fill="none" stroke="#dedede" stroke-width="25.0" stroke-linecap="butt" stroke-linejoin="round"/><polyline points="371.4,209.0 437.6,117.0" fill="none" stroke="#e6e6e6" stroke-width="25.0" stroke-linecap="butt" stroke-linejoin="round"/><polyline points="401.4,209.0 467.6,117.0" fill="none" stroke="#e3e3e3" stroke-width="25.0" stroke-linecap="butt" stroke-linejoin="round"/><polyline points="428.4,209.0 494.6,117.0" fill="none" stroke="#f2f2f2" stroke-width="25.0" stroke-linecap="butt" stroke-linejoin="round"/><polyline points="453.4,209.0 519.6,117.0" fill="none" stroke="#f9f9f9" stroke-width="25.0" stroke-linecap="butt" stroke-linejoin="round"/></g></g></g><g filter="url(#b2)"><clipPath id="ca61"><rect x="0.0" y="129.0" width="700.0" height="69.0"/></clipPath><g><g clip-path="url(#ca61)"><polyline points="274.4,209.0 340.6,117.0" fill="none" stroke="#e8e8e8" stroke-width="11.0" stroke-linecap="butt" stroke-linejoin="round"/><polyline points="296.4,209.0 362.6,117.0" fill="none" stroke="#dedede" stroke-width="11.0" stroke-linecap="butt" stroke-linejoin="round"/><polyline points="318.4,209.0 384.6,117.0" fill="none" stroke="#c2c2c2" stroke-width="11.0" stroke-linecap="butt" stroke-linejoin="round"/><polyline points="341.4,209.0 407.6,117.0" fill="none" stroke="#c4c4c4" stroke-width="11.0" stroke-linecap="butt" stroke-linejoin="round"/><polyline points="371.4,209.0 437.6,117.0" fill="none" stroke="#e0e0e0" stroke-width="11.0" stroke-linecap="butt" stroke-linejoin="round"/><polyline points="401.4,209.0 467.6,117.0" fill="none" stroke="#d6d6d6" stroke-width="11.0" stroke-linecap="butt" stroke-linejoin="round"/><polyline points="428.4,209.0 494.6,117.0" fill="none" stroke="#ededed" stroke-width="11.0" stroke-linecap="butt" stroke-linejoin="round"/></g></g></g><g filter="url(#b3)"><clipPath id="ca62"><rect x="0.0" y="108.0" width="700.0" height="22.0"/></clipPath><g><g clip-path="url(#ca62)"><polyline points="197.0,141.0 230.8,96.0" fill="none" stroke="#f5f5f5" stroke-width="25.0" stroke-linecap="butt" stroke-linejoin="round"/><polyline points="221.0,141.0 254.8,96.0" fill="none" stroke="#f2f2f2" stroke-width="25.0" stroke-linecap="butt" stroke-linejoin="round"/><polyline points="245.0,141.0 278.8,96.0" fill="none" stroke="#f0f0f0" stroke-width="25.0" stroke-linecap="butt" stroke-linejoin="round"/><polyline points="269.0,141.0 302.8,96.0" fill="none" stroke="#eeeeee" stroke-width="25.0" stroke-linecap="butt" stroke-linejoin="round"/><polyline points="287.0,141.0 320.8,96.0" fill="none" stroke="#ececec" stroke-width="25.0" stroke-linecap="butt" stroke-linejoin="round"/><polyline points="309.0,141.0 342.8,96.0" fill="none" stroke="#ebebeb" stroke-width="25.0" stroke-linecap="butt" stroke-linejoin="round"/><polyline points="334.0,141.0 367.8,96.0" fill="none" stroke="#e8e8e8" stroke-width="25.0" stroke-linecap="butt" stroke-linejoin="round"/><polyline points="359.0,141.0 392.8,96.0" fill="none" stroke="#e8e8e8" stroke-width="25.0" stroke-linecap="butt" stroke-linejoin="round"/><polyline points="381.0,141.0 414.8,96.0" fill="none" stroke="#e9e9e9" stroke-width="25.0" stroke-linecap="butt" stroke-linejoin="round"/><polyline points="403.0,141.0 436.8,96.0" fill="none" stroke="#ededed" stroke-width="25.0" stroke-linecap="butt" stroke-linejoin="round"/><polyline points="427.0,141.0 460.8,96.0" fill="none" stroke="#f7f7f7" stroke-width="25.0" stroke-linecap="butt" stroke-linejoin="round"/><polyline points="451.0,141.0 484.8,96.0" fill="none" stroke="#fbfbfb" stroke-width="25.0" stroke-linecap="butt" stroke-linejoin="round"/></g></g></g><g filter="url(#b2)"><clipPath id="ca63"><rect x="0.0" y="108.0" width="700.0" height="22.0"/></clipPath><g><g clip-path="url(#ca63)"><polyline points="287.0,141.0 320.8,96.0" fill="none" stroke="#e9e9e9" stroke-width="11.0" stroke-linecap="butt" stroke-linejoin="round"/><polyline points="309.0,141.0 342.8,96.0" fill="none" stroke="#e6e6e6" stroke-width="11.0" stroke-linecap="butt" stroke-linejoin="round"/><polyline points="334.0,141.0 367.8,96.0" fill="none" stroke="#d1d1d1" stroke-width="11.0" stroke-linecap="butt" stroke-linejoin="round"/><polyline points="359.0,141.0 392.8,96.0" fill="none" stroke="#dbdbdb" stroke-width="11.0" stroke-linecap="butt" stroke-linejoin="round"/><polyline points="381.0,141.0 414.8,96.0" fill="none" stroke="#d6d6d6" stroke-width="11.0" stroke-linecap="butt" stroke-linejoin="round"/><polyline points="403.0,141.0 436.8,96.0" fill="none" stroke="#e6e6e6" stroke-width="11.0" stroke-linecap="butt" stroke-linejoin="round"/></g></g></g><g filter="url(#b3)"><clipPath id="ca64"><rect x="0.0" y="77.0" width="700.0" height="32.0"/></clipPath><g><g clip-path="url(#ca64)"><polyline points="197.0,120.0 238.2,65.0" fill="none" stroke="#f5f5f5" stroke-width="25.0" stroke-linecap="butt" stroke-linejoin="round"/><polyline points="221.0,120.0 262.2,65.0" fill="none" stroke="#f1f1f1" stroke-width="25.0" stroke-linecap="butt" stroke-linejoin="round"/><polyline points="245.0,120.0 286.2,65.0" fill="none" stroke="#f0f0f0" stroke-width="25.0" stroke-linecap="butt" stroke-linejoin="round"/><polyline points="267.0,120.0 308.2,65.0" fill="none" stroke="#eeeeee" stroke-width="25.0" stroke-linecap="butt" stroke-linejoin="round"/><polyline points="281.0,120.0 322.2,65.0" fill="none" stroke="#ededed" stroke-width="25.0" stroke-linecap="butt" stroke-linejoin="round"/><polyline points="303.0,120.0 344.2,65.0" fill="none" stroke="#ececec" stroke-width="25.0" stroke-linecap="butt" stroke-linejoin="round"/><polyline points="329.0,120.0 370.2,65.0" fill="none" stroke="#ebebeb" stroke-width="25.0" stroke-linecap="butt" stroke-linejoin="round"/><polyline points="351.0,120.0 392.2,65.0" fill="none" stroke="#ebebeb" stroke-width="25.0" stroke-linecap="butt" stroke-linejoin="round"/><polyline points="375.0,120.0 416.2,65.0" fill="none" stroke="#ececec" stroke-width="25.0" stroke-linecap="butt" stroke-linejoin="round"/><polyline points="397.0,120.0 438.2,65.0" fill="none" stroke="#f0f0f0" stroke-width="25.0" stroke-linecap="butt" stroke-linejoin="round"/><polyline points="421.0,120.0 462.2,65.0" fill="none" stroke="#f9f9f9" stroke-width="25.0" stroke-linecap="butt" stroke-linejoin="round"/><polyline points="445.0,120.0 486.2,65.0" fill="none" stroke="#fbfbfb" stroke-width="25.0" stroke-linecap="butt" stroke-linejoin="round"/></g></g></g><g filter="url(#b2)"><clipPath id="ca65"><rect x="0.0" y="77.0" width="700.0" height="32.0"/></clipPath><g><g clip-path="url(#ca65)"><polyline points="303.0,120.0 344.2,65.0" fill="none" stroke="#e0e0e0" stroke-width="11.0" stroke-linecap="butt" stroke-linejoin="round"/><polyline points="329.0,120.0 370.2,65.0" fill="none" stroke="#dedede" stroke-width="11.0" stroke-linecap="butt" stroke-linejoin="round"/><polyline points="351.0,120.0 392.2,65.0" fill="none" stroke="#d6d6d6" stroke-width="11.0" stroke-linecap="butt" stroke-linejoin="round"/><polyline points="375.0,120.0 416.2,65.0" fill="none" stroke="#dedede" stroke-width="11.0" stroke-linecap="butt" stroke-linejoin="round"/><polyline points="397.0,120.0 438.2,65.0" fill="none" stroke="#ebebeb" stroke-width="11.0" stroke-linecap="butt" stroke-linejoin="round"/></g></g></g><g filter="url(#b3)"><clipPath id="ca78"><rect x="0.0" y="15.0" width="700.0" height="63.0"/></clipPath><g><g clip-path="url(#ca78)"><linearGradient id="ga66" gradientUnits="userSpaceOnUse" x1="173.0" y1="89.0" x2="237.5" y2="3.0"><stop offset="0.000" stop-color="#f7f7f7"/><stop offset="1.000" stop-color="#f4f4f4"/></linearGradient><polyline points="173.0,89.0 237.5,3.0" fill="none" stroke="url(#ga66)" stroke-width="25.0" stroke-linecap="butt" stroke-linejoin="round"/><linearGradient id="ga67" gradientUnits="userSpaceOnUse" x1="197.0" y1="89.0" x2="261.5" y2="3.0"><stop offset="0.000" stop-color="#f5f5f5"/><stop offset="1.000" stop-color="#f4f4f4"/></linearGradient><polyline points="197.0,89.0 261.5,3.0" fill="none" stroke="url(#ga67)" stroke-width="25.0" stroke-linecap="butt" stroke-linejoin="round"/><linearGradient id="ga68" gradientUnits="userSpaceOnUse" x1="221.0" y1="89.0" x2="285.5" y2="3.0"><stop offset="0.000" stop-color="#f2f2f2"/><stop offset="1.000" stop-color="#f4f4f4"/></linearGradient><polyline points="221.0,89.0 285.5,3.0" fill="none" stroke="url(#ga68)" stroke-width="25.0" stroke-linecap="butt" stroke-linejoin="round"/><linearGradient id="ga69" gradientUnits="userSpaceOnUse" x1="245.0" y1="89.0" x2="309.5" y2="3.0"><stop offset="0.000" stop-color="#f0f0f0"/><stop offset="1.000" stop-color="#f2f2f2"/></linearGradient><polyline points="245.0,89.0 309.5,3.0" fill="none" stroke="url(#ga69)" stroke-width="25.0" stroke-linecap="butt" stroke-linejoin="round"/><linearGradient id="ga70" gradientUnits="userSpaceOnUse" x1="271.0" y1="89.0" x2="335.5" y2="3.0"><stop offset="0.000" stop-color="#eeeeee"/><stop offset="1.000" stop-color="#f1f1f1"/></linearGradient><polyline points="271.0,89.0 335.5,3.0" fill="none" stroke="url(#ga70)" stroke-width="25.0" stroke-linecap="butt" stroke-linejoin="round"/><linearGradient id="ga71" gradientUnits="userSpaceOnUse" x1="296.0" y1="89.0" x2="360.5" y2="3.0"><stop offset="0.000" stop-color="#ededed"/><stop offset="1.000" stop-color="#f0f0f0"/></linearGradient><polyline points="296.0,89.0 360.5,3.0" fill="none" stroke="url(#ga71)" stroke-width="25.0" stroke-linecap="butt" stroke-linejoin="round"/><linearGradient id="ga72" gradientUnits="userSpaceOnUse" x1="321.0" y1="89.0" x2="385.5" y2="3.0"><stop offset="0.000" stop-color="#ececec"/><stop offset="1.000" stop-color="#eeeeee"/></linearGradient><polyline points="321.0,89.0 385.5,3.0" fill="none" stroke="url(#ga72)" stroke-width="25.0" stroke-linecap="butt" stroke-linejoin="round"/><linearGradient id="ga73" gradientUnits="userSpaceOnUse" x1="345.0" y1="89.0" x2="409.5" y2="3.0"><stop offset="0.000" stop-color="#ededed"/><stop offset="1.000" stop-color="#f0f0f0"/></linearGradient><polyline points="345.0,89.0 409.5,3.0" fill="none" stroke="url(#ga73)" stroke-width="25.0" stroke-linecap="butt" stroke-linejoin="round"/><linearGradient id="ga74" gradientUnits="userSpaceOnUse" x1="367.0" y1="89.0" x2="431.5" y2="3.0"><stop offset="0.000" stop-color="#ededed"/><stop offset="1.000" stop-color="#f0f0f0"/></linearGradient><polyline points="367.0,89.0 431.5,3.0" fill="none" stroke="url(#ga74)" stroke-width="25.0" stroke-linecap="butt" stroke-linejoin="round"/><linearGradient id="ga75" gradientUnits="userSpaceOnUse" x1="391.0" y1="89.0" x2="455.5" y2="3.0"><stop offset="0.000" stop-color="#f0f0f0"/><stop offset="1.000" stop-color="#f2f2f2"/></linearGradient><polyline points="391.0,89.0 455.5,3.0" fill="none" stroke="url(#ga75)" stroke-width="25.0" stroke-linecap="butt" stroke-linejoin="round"/><linearGradient id="ga76" gradientUnits="userSpaceOnUse" x1="415.0" y1="89.0" x2="479.5" y2="3.0"><stop offset="0.000" stop-color="#f6f6f6"/><stop offset="1.000" stop-color="#f4f4f4"/></linearGradient><polyline points="415.0,89.0 479.5,3.0" fill="none" stroke="url(#ga76)" stroke-width="25.0" stroke-linecap="butt" stroke-linejoin="round"/><linearGradient id="ga77" gradientUnits="userSpaceOnUse" x1="439.0" y1="89.0" x2="503.5" y2="3.0"><stop offset="0.000" stop-color="#fbfbfb"/><stop offset="1.000" stop-color="#f4f4f4"/></linearGradient><polyline points="439.0,89.0 503.5,3.0" fill="none" stroke="url(#ga77)" stroke-width="25.0" stroke-linecap="butt" stroke-linejoin="round"/></g></g></g><g filter="url(#b2)"><clipPath id="ca81"><rect x="0.0" y="15.0" width="700.0" height="63.0"/></clipPath><g><g clip-path="url(#ca81)"><linearGradient id="ga79" gradientUnits="userSpaceOnUse" x1="321.0" y1="89.0" x2="385.5" y2="3.0"><stop offset="0.000" stop-color="#e6e6e6"/><stop offset="1.000" stop-color="#f0f0f0"/></linearGradient><polyline points="321.0,89.0 385.5,3.0" fill="none" stroke="url(#ga79)" stroke-width="11.0" stroke-linecap="butt" stroke-linejoin="round"/><linearGradient id="ga80" gradientUnits="userSpaceOnUse" x1="367.0" y1="89.0" x2="431.5" y2="3.0"><stop offset="0.000" stop-color="#e6e6e6"/><stop offset="1.000" stop-color="#f0f0f0"/></linearGradient><polyline points="367.0,89.0 431.5,3.0" fill="none" stroke="url(#ga80)" stroke-width="11.0" stroke-linecap="butt" stroke-linejoin="round"/></g></g></g><g filter="url(#b3)"><polygon points="332.0,462.0 350.0,440.0 366.0,426.0 382.0,416.0 398.0,408.0 401.0,413.0 390.0,424.0 378.0,436.0 368.0,450.0 364.0,462.0" fill="#575757"/></g><g filter="url(#b2)"><polygon points="308.0,500.0 311.0,489.0 328.0,466.0 340.0,455.0 352.0,452.0 362.0,455.0 364.0,460.0 347.0,489.0 345.0,500.0" fill="#242424"/></g><g filter="url(#b1)"><polygon points="345.0,500.0 348.0,489.0 365.6,460.0 387.6,430.0 404.0,410.0 416.3,395.0 428.4,380.0 441.8,365.0 457.6,350.0 472.0,337.0 485.4,325.0 481.0,338.0 477.0,350.0 471.0,365.0 463.5,380.0 452.5,395.0 444.2,410.0 429.5,430.0 409.5,460.0 390.5,489.0 387.0,500.0" fill="#000000"/><polygon points="390.0,500.0 393.0,489.0 412.0,460.0 432.0,430.0 446.5,410.0 455.0,395.0 466.0,380.0 473.0,365.0 480.0,358.0 489.0,355.0 487.0,362.0 484.0,365.0 477.0,380.0 469.8,395.0 462.5,410.0 450.0,430.0 428.0,460.0 408.5,489.0 406.0,500.0" fill="#080808"/></g><g filter="url(#b1)"><polyline points="389.0,500.0 390.5,489.0 409.5,460.0 429.5,430.0 444.2,410.0 452.5,395.0 463.5,380.0 471.0,365.0 478.0,352.0" fill="none" stroke="#787878" stroke-width="3.4" stroke-linecap="round" stroke-linejoin="round"/><polyline points="343.0,500.0 345.0,489.0 363.0,460.0 380.0,436.0" fill="none" stroke="#757575" stroke-width="3.4" stroke-linecap="round" stroke-linejoin="round"/></g><g filter="url(#b1)"><polyline points="338.0,191.0 462.0,191.0" fill="none" stroke="#f1f1f1" stroke-width="2.0" stroke-linecap="butt" stroke-linejoin="round"/></g><g filter="url(#b1)"><polyline points="318.0,198.7 334.0,198.7" fill="none" stroke="#d6d6d6" stroke-width="4.0" stroke-linecap="round" stroke-linejoin="round"/><polyline points="355.0,198.7 368.0,198.7" fill="none" stroke="#b8b8b8" stroke-width="5.0" stroke-linecap="round" stroke-linejoin="round"/><polyline points="371.0,198.7 389.0,198.7" fill="none" stroke="#d6d6d6" stroke-width="3.5" stroke-linecap="round" stroke-linejoin="round"/><polyline points="418.0,198.7 429.0,198.7" fill="none" stroke="#b8b8b8" stroke-width="5.0" stroke-linecap="round" stroke-linejoin="round"/><polyline points="443.0,198.7 455.0,198.7" fill="none" stroke="#d6d6d6" stroke-width="3.5" stroke-linecap="round" stroke-linejoin="round"/></g></g></g><g clip-path="url(#clipB)"><g filter="url(#cm)"><rect x="960.0" y="0.0" width="540.0" height="520.0" fill="#f5f5f5"/><g filter="url(#b8)"><polygon points="985.0,30.0 1035.0,30.0 1075.0,75.0 1120.0,120.0 1160.0,165.0 1185.0,200.0 1195.0,252.0 985.0,252.0" fill="#eeeeee"/><polygon points="995.0,105.0 1070.0,105.0 1115.0,150.0 1150.0,195.0 1165.0,252.0 1030.0,252.0 1000.0,200.0" fill="#e7e7e7"/><polygon points="1150.0,205.0 1320.0,205.0 1360.0,260.0 1300.0,262.0 1160.0,262.0" fill="#f3f3f3"/><polygon points="1056.0,252.0 1290.0,252.0 1390.0,300.0 1430.0,400.0 1460.0,500.0 1075.0,500.0 1060.0,400.0" fill="#eeeeee"/><polygon points="1110.0,262.0 1300.0,262.0 1385.0,310.0 1405.0,400.0 1412.0,500.0 1128.0,500.0 1114.0,420.0" fill="#e2e2e2"/></g><g filter="url(#b5)"><polygon points="1240.0,262.0 1335.0,262.0 1340.0,330.0 1310.0,350.0 1290.0,345.0 1275.0,330.0 1255.0,330.0 1240.0,340.0" fill="#ededed"/></g><g filter="url(#b6)"><polygon points="1070.0,10.0 1140.0,10.0 1320.0,205.0 1335.0,225.0 1290.0,222.0 1240.0,215.0 1190.0,195.0 1150.0,165.0 1110.0,120.0" fill="#fafafa"/></g><g filter="url(#b2)"><linearGradient id="gb82" gradientUnits="userSpaceOnUse" x1="1014.0" y1="120.0" x2="1007.2" y2="52.0"><stop offset="0.000" stop-color="#d6d6d6"/><stop offset="1.000" stop-color="#e3e3e3"/></linearGradient><polyline points="1014.0,120.0 1007.2,52.0" fill="none" stroke="url(#gb82)" stroke-width="11.0" stroke-linecap="butt" stroke-linejoin="round"/><linearGradient id="gb83" gradientUnits="userSpaceOnUse" x1="1040.0" y1="120.0" x2="1034.2" y2="62.0"><stop offset="0.000" stop-color="#dbdbdb"/><stop offset="1.000" stop-color="#e6e6e6"/></linearGradient><polyline points="1040.0,120.0 1034.2,62.0" fill="none" stroke="url(#gb83)" stroke-width="10.0" stroke-linecap="butt" stroke-linejoin="round"/><linearGradient id="gb84" gradientUnits="userSpaceOnUse" x1="1065.0" y1="120.0" x2="1061.8" y2="88.0"><stop offset="0.000" stop-color="#e6e6e6"/><stop offset="1.000" stop-color="#ebebeb"/></linearGradient><polyline points="1065.0,120.0 1061.8,88.0" fill="none" stroke="url(#gb84)" stroke-width="8.0" stroke-linecap="butt" stroke-linejoin="round"/><linearGradient id="gb85" gradientUnits="userSpaceOnUse" x1="996.0" y1="120.0" x2="989.0" y2="50.0"><stop offset="0.000" stop-color="#e6e6e6"/><stop offset="1.000" stop-color="#e8e8e8"/></linearGradient><polyline points="996.0,120.0 989.0,50.0" fill="none" stroke="url(#gb85)" stroke-width="7.0" stroke-linecap="butt" stroke-linejoin="round"/><linearGradient id="gb86" gradientUnits="userSpaceOnUse" x1="1041.0" y1="180.0" x2="1034.8" y2="118.0"><stop offset="0.000" stop-color="#bfbfbf"/><stop offset="1.000" stop-color="#c7c7c7"/></linearGradient><polyline points="1041.0,180.0 1034.8,118.0" fill="none" stroke="url(#gb86)" stroke-width="12.0" stroke-linecap="butt" stroke-linejoin="round"/><linearGradient id="gb87" gradientUnits="userSpaceOnUse" x1="1067.0" y1="180.0" x2="1060.8" y2="118.0"><stop offset="0.000" stop-color="#c9c9c9"/><stop offset="1.000" stop-color="#d1d1d1"/></linearGradient><polyline points="1067.0,180.0 1060.8,118.0" fill="none" stroke="url(#gb87)" stroke-width="10.0" stroke-linecap="butt" stroke-linejoin="round"/><linearGradient id="gb88" gradientUnits="userSpaceOnUse" x1="1093.0" y1="180.0" x2="1087.5" y2="125.0"><stop offset="0.000" stop-color="#e6e6e6"/><stop offset="1.000" stop-color="#e8e8e8"/></linearGradient><polyline points="1093.0,180.0 1087.5,125.0" fill="none" stroke="url(#gb88)" stroke-width="7.0" stroke-linecap="butt" stroke-linejoin="round"/><linearGradient id="gb89" gradientUnits="userSpaceOnUse" x1="1120.0" y1="180.0" x2="1115.2" y2="132.0"><stop offset="0.000" stop-color="#d6d6d6"/><stop offset="1.000" stop-color="#e0e0e0"/></linearGradient><polyline points="1120.0,180.0 1115.2,132.0" fill="none" stroke="url(#gb89)" stroke-width="9.0" stroke-linecap="butt" stroke-linejoin="round"/><linearGradient id="gb90" gradientUnits="userSpaceOnUse" x1="1144.0" y1="180.0" x2="1141.0" y2="150.0"><stop offset="0.000" stop-color="#e0e0e0"/><stop offset="1.000" stop-color="#e6e6e6"/></linearGradient><polyline points="1144.0,180.0 1141.0,150.0" fill="none" stroke="url(#gb90)" stroke-width="7.0" stroke-linecap="butt" stroke-linejoin="round"/><linearGradient id="gb91" gradientUnits="userSpaceOnUse" x1="1018.0" y1="180.0" x2="1011.8" y2="118.0"><stop offset="0.000" stop-color="#e0e0e0"/><stop offset="1.000" stop-color="#e3e3e3"/></linearGradient><polyline points="1018.0,180.0 1011.8,118.0" fill="none" stroke="url(#gb91)" stroke-width="8.0" stroke-linecap="butt" stroke-linejoin="round"/><polyline points="998.0,180.0 991.8,118.0" fill="none" stroke="#e6e6e6" stroke-width="7.0" stroke-linecap="butt" stroke-linejoin="round"/><polyline points="1048.0,252.0 1041.3,185.0" fill="none" stroke="#cccccc" stroke-width="11.0" stroke-linecap="butt" stroke-linejoin="round"/><polyline points="1075.0,252.0 1068.3,185.0" fill="none" stroke="#d1d1d1" stroke-width="10.0" stroke-linecap="butt" stroke-linejoin="round"/><linearGradient id="gb92" gradientUnits="userSpaceOnUse" x1="1114.0" y1="252.0" x2="1107.3" y2="185.0"><stop offset="0.000" stop-color="#bdbdbd"/><stop offset="1.000" stop-color="#c2c2c2"/></linearGradient><polyline points="1114.0,252.0 1107.3,185.0" fill="none" stroke="url(#gb92)" stroke-width="12.0" stroke-linecap="butt" stroke-linejoin="round"/><linearGradient id="gb93" gradientUnits="userSpaceOnUse" x1="1137.0" y1="252.0" x2="1130.8" y2="190.0"><stop offset="0.000" stop-color="#cccccc"/><stop offset="1.000" stop-color="#d1d1d1"/></linearGradient><polyline points="1137.0,252.0 1130.8,190.0" fill="none" stroke="url(#gb93)" stroke-width="9.0" stroke-linecap="butt" stroke-linejoin="round"/><linearGradient id="gb94" gradientUnits="userSpaceOnUse" x1="1158.0" y1="252.0" x2="1153.3" y2="205.0"><stop offset="0.000" stop-color="#dedede"/><stop offset="1.000" stop-color="#e0e0e0"/></linearGradient><polyline points="1158.0,252.0 1153.3,205.0" fill="none" stroke="url(#gb94)" stroke-width="7.0" stroke-linecap="butt" stroke-linejoin="round"/><linearGradient id="gb95" gradientUnits="userSpaceOnUse" x1="1178.0" y1="252.0" x2="1174.3" y2="215.0"><stop offset="0.000" stop-color="#e3e3e3"/><stop offset="1.000" stop-color="#e6e6e6"/></linearGradient><polyline points="1178.0,252.0 1174.3,215.0" fill="none" stroke="url(#gb95)" stroke-width="7.0" stroke-linecap="butt" stroke-linejoin="round"/><linearGradient id="gb96" gradientUnits="userSpaceOnUse" x1="1024.0" y1="252.0" x2="1017.3" y2="185.0"><stop offset="0.000" stop-color="#e3e3e3"/><stop offset="1.000" stop-color="#e6e6e6"/></linearGradient><polyline points="1024.0,252.0 1017.3,185.0" fill="none" stroke="url(#gb96)" stroke-width="8.0" stroke-linecap="butt" stroke-linejoin="round"/><polyline points="1000.0,252.0 993.3,185.0" fill="none" stroke="#e8e8e8" stroke-width="7.0" stroke-linecap="butt" stroke-linejoin="round"/><linearGradient id="gb97" gradientUnits="userSpaceOnUse" x1="1063.0" y1="252.0" x2="1063.0" y2="360.0"><stop offset="0.000" stop-color="#e0e0e0"/><stop offset="0.444" stop-color="#e6e6e6"/><stop offset="1.000" stop-color="#ededed"/></linearGradient><polyline points="1063.0,252.0 1063.0,300.0 1063.0,360.0" fill="none" stroke="url(#gb97)" stroke-width="8.0" stroke-linecap="round" stroke-linejoin="round"/><linearGradient id="gb98" gradientUnits="userSpaceOnUse" x1="1085.0" y1="252.0" x2="1085.0" y2="360.0"><stop offset="0.000" stop-color="#e0e0e0"/><stop offset="0.444" stop-color="#e6e6e6"/><stop offset="1.000" stop-color="#ededed"/></linearGradient><polyline points="1085.0,252.0 1085.0,300.0 1085.0,360.0" fill="none" stroke="url(#gb98)" stroke-width="8.0" stroke-linecap="round" stroke-linejoin="round"/><linearGradient id="gb99" gradientUnits="userSpaceOnUse" x1="1121.0" y1="252.0" x2="1114.0" y2="497.0"><stop offset="0.000" stop-color="#c2c2c2"/><stop offset="0.196" stop-color="#bfbfbf"/><stop offset="0.441" stop-color="#d6d6d6"/><stop offset="0.686" stop-color="#e6e6e6"/><stop offset="1.000" stop-color="#ededed"/></linearGradient><polyline points="1121.0,252.0 1121.0,300.0 1119.0,360.0 1118.0,420.0 1114.0,497.0" fill="none" stroke="url(#gb99)" stroke-width="11.0" stroke-linecap="round" stroke-linejoin="round"/><linearGradient id="gb100" gradientUnits="userSpaceOnUse" x1="1141.0" y1="252.0" x2="1135.0" y2="497.0"><stop offset="0.000" stop-color="#c2c2c2"/><stop offset="0.196" stop-color="#bfbfbf"/><stop offset="0.441" stop-color="#cccccc"/><stop offset="0.685" stop-color="#e0e0e0"/><stop offset="1.000" stop-color="#e6e6e6"/></linearGradient><polyline points="1141.0,252.0 1141.0,300.0 1140.0,360.0 1140.0,420.0 1135.0,497.0" fill="none" stroke="url(#gb100)" stroke-width="11.0" stroke-linecap="round" stroke-linejoin="round"/><linearGradient id="gb101" gradientUnits="userSpaceOnUse" x1="1162.0" y1="255.0" x2="1148.0" y2="497.0"><stop offset="0.000" stop-color="#c2c2c2"/><stop offset="0.185" stop-color="#bfbfbf"/><stop offset="0.433" stop-color="#bfbfbf"/><stop offset="0.682" stop-color="#c7c7c7"/><stop offset="1.000" stop-color="#d9d9d9"/></linearGradient><polyline points="1162.0,255.0 1162.0,300.0 1160.0,360.0 1153.0,420.0 1148.0,497.0" fill="none" stroke="url(#gb101)" stroke-width="11.0" stroke-linecap="round" stroke-linejoin="round"/><linearGradient id="gb102" gradientUnits="userSpaceOnUse" x1="1181.0" y1="270.0" x2="1185.0" y2="497.0"><stop offset="0.000" stop-color="#dbdbdb"/><stop offset="0.132" stop-color="#d9d9d9"/><stop offset="0.396" stop-color="#d1d1d1"/><stop offset="0.661" stop-color="#cccccc"/><stop offset="1.000" stop-color="#c2c2c2"/></linearGradient><polyline points="1181.0,270.0 1181.0,300.0 1180.0,360.0 1185.0,420.0 1185.0,497.0" fill="none" stroke="url(#gb102)" stroke-width="12.0" stroke-linecap="round" stroke-linejoin="round"/><linearGradient id="gb103" gradientUnits="userSpaceOnUse" x1="1200.0" y1="280.0" x2="1216.0" y2="497.0"><stop offset="0.000" stop-color="#dedede"/><stop offset="0.091" stop-color="#d6d6d6"/><stop offset="0.369" stop-color="#bdbdbd"/><stop offset="0.646" stop-color="#bfbfbf"/><stop offset="1.000" stop-color="#bdbdbd"/></linearGradient><polyline points="1200.0,280.0 1199.0,300.0 1207.0,360.0 1213.0,420.0 1216.0,497.0" fill="none" stroke="url(#gb103)" stroke-width="16.0" stroke-linecap="round" stroke-linejoin="round"/><linearGradient id="gb104" gradientUnits="userSpaceOnUse" x1="1226.0" y1="300.0" x2="1231.0" y2="400.0"><stop offset="0.000" stop-color="#dbdbdb"/><stop offset="0.600" stop-color="#dedede"/><stop offset="1.000" stop-color="#bfbfbf"/></linearGradient><polyline points="1226.0,300.0 1228.0,360.0 1231.0,400.0" fill="none" stroke="url(#gb104)" stroke-width="12.0" stroke-linecap="round" stroke-linejoin="round"/><linearGradient id="gb105" gradientUnits="userSpaceOnUse" x1="1243.0" y1="300.0" x2="1246.0" y2="395.0"><stop offset="0.000" stop-color="#e6e6e6"/><stop offset="0.632" stop-color="#b2b2b2"/><stop offset="1.000" stop-color="#999999"/></linearGradient><polyline points="1243.0,300.0 1245.0,360.0 1246.0,395.0" fill="none" stroke="url(#gb105)" stroke-width="12.0" stroke-linecap="round" stroke-linejoin="round"/><linearGradient id="gb106" gradientUnits="userSpaceOnUse" x1="1318.0" y1="497.0" x2="1350.5" y2="265.0"><stop offset="0.000" stop-color="#595959"/><stop offset="0.246" stop-color="#8c8c8c"/><stop offset="0.504" stop-color="#b2b2b2"/><stop offset="0.763" stop-color="#c7c7c7"/><stop offset="1.000" stop-color="#e0e0e0"/></linearGradient><polyline points="1318.0,497.0 1326.0,440.0 1334.4,380.0 1342.8,320.0 1350.5,265.0" fill="none" stroke="url(#gb106)" stroke-width="11.0" stroke-linecap="round" stroke-linejoin="round"/><linearGradient id="gb107" gradientUnits="userSpaceOnUse" x1="1336.0" y1="497.0" x2="1368.5" y2="265.0"><stop offset="0.000" stop-color="#787878"/><stop offset="0.246" stop-color="#999999"/><stop offset="0.504" stop-color="#bdbdbd"/><stop offset="0.763" stop-color="#cccccc"/><stop offset="1.000" stop-color="#e0e0e0"/></linearGradient><polyline points="1336.0,497.0 1344.0,440.0 1352.4,380.0 1360.8,320.0 1368.5,265.0" fill="none" stroke="url(#gb107)" stroke-width="10.0" stroke-linecap="round" stroke-linejoin="round"/><linearGradient id="gb108" gradientUnits="userSpaceOnUse" x1="1355.0" y1="497.0" x2="1387.5" y2="265.0"><stop offset="0.000" stop-color="#bfbfbf"/><stop offset="0.246" stop-color="#c7c7c7"/><stop offset="0.504" stop-color="#c2c2c2"/><stop offset="0.763" stop-color="#cccccc"/><stop offset="1.000" stop-color="#e0e0e0"/></linearGradient><polyline points="1355.0,497.0 1363.0,440.0 1371.4,380.0 1379.8,320.0 1387.5,265.0" fill="none" stroke="url(#gb108)" stroke-width="11.0" stroke-linecap="round" stroke-linejoin="round"/><linearGradient id="gb109" gradientUnits="userSpaceOnUse" x1="1374.0" y1="497.0" x2="1406.5" y2="265.0"><stop offset="0.000" stop-color="#d6d6d6"/><stop offset="0.246" stop-color="#d6d6d6"/><stop offset="0.504" stop-color="#cccccc"/><stop offset="0.763" stop-color="#d6d6d6"/><stop offset="1.000" stop-color="#e6e6e6"/></linearGradient><polyline points="1374.0,497.0 1382.0,440.0 1390.4,380.0 1398.8,320.0 1406.5,265.0" fill="none" stroke="url(#gb109)" stroke-width="9.0" stroke-linecap="round" stroke-linejoin="round"/><linearGradient id="gb110" gradientUnits="userSpaceOnUse" x1="1390.0" y1="497.0" x2="1422.5" y2="265.0"><stop offset="0.000" stop-color="#dbdbdb"/><stop offset="0.246" stop-color="#dbdbdb"/><stop offset="0.504" stop-color="#d6d6d6"/><stop offset="0.763" stop-color="#e0e0e0"/><stop offset="1.000" stop-color="#ebebeb"/></linearGradient><polyline points="1390.0,497.0 1398.0,440.0 1406.4,380.0 1414.8,320.0 1422.5,265.0" fill="none" stroke="url(#gb110)" stroke-width="9.0" stroke-linecap="round" stroke-linejoin="round"/><linearGradient id="gb111" gradientUnits="userSpaceOnUse" x1="1410.0" y1="497.0" x2="1442.5" y2="265.0"><stop offset="0.000" stop-color="#e6e6e6"/><stop offset="0.246" stop-color="#e6e6e6"/><stop offset="0.504" stop-color="#e0e0e0"/><stop offset="0.763" stop-color="#e6e6e6"/><stop offset="1.000" stop-color="#ededed"/></linearGradient><polyline points="1410.0,497.0 1418.0,440.0 1426.4,380.0 1434.8,320.0 1442.5,265.0" fill="none" stroke="url(#gb111)" stroke-width="8.0" stroke-linecap="round" stroke-linejoin="round"/><linearGradient id="gb112" gradientUnits="userSpaceOnUse" x1="1430.0" y1="497.0" x2="1462.5" y2="265.0"><stop offset="0.000" stop-color="#ededed"/><stop offset="0.246" stop-color="#ebebeb"/><stop offset="0.504" stop-color="#ebebeb"/><stop offset="0.763" stop-color="#ededed"/><stop offset="1.000" stop-color="#f0f0f0"/></linearGradient><polyline points="1430.0,497.0 1438.0,440.0 1446.4,380.0 1454.8,320.0 1462.5,265.0" fill="none" stroke="url(#gb112)" stroke-width="8.0" stroke-linecap="round" stroke-linejoin="round"/></g><g filter="url(#b3)"><polygon points="1246.5,497.0 1246.5,475.0 1246.0,440.0 1246.5,400.0 1248.0,375.0 1250.5,350.0 1252.0,335.0 1254.0,325.0 1258.3,302.0 1277.0,325.0 1280.0,335.0 1283.5,350.0 1286.5,375.0 1288.5,400.0 1292.0,440.0 1295.0,475.0 1296.0,497.0" fill="#bfbfbf"/><polygon points="1290.0,497.0 1289.0,475.0 1284.0,420.0 1282.5,400.0 1282.5,380.0 1283.5,360.0 1285.6,338.6 1289.0,360.0 1303.5,380.0 1306.0,400.0 1308.0,420.0 1313.0,475.0 1314.0,497.0" fill="#c2c2c2"/></g><g filter="url(#b2)"><ellipse cx="1266.0" cy="300.0" rx="6.0" ry="18.0" fill="#c4c4c4"/><ellipse cx="1291.0" cy="335.0" rx="4.0" ry="14.0" fill="#cccccc"/></g><g filter="url(#b2)"><linearGradient id="gb113" gradientUnits="userSpaceOnUse" x1="1209.0" y1="305.0" x2="1208.0" y2="497.0"><stop offset="0.000" stop-color="#b8b8b8"/><stop offset="0.286" stop-color="#8c8c8c"/><stop offset="0.599" stop-color="#7a7a7a"/><stop offset="1.000" stop-color="#787878"/></linearGradient><polyline points="1209.0,305.0 1209.0,360.0 1209.0,420.0 1208.0,497.0" fill="none" stroke="url(#gb113)" stroke-width="7.0" stroke-linecap="round" stroke-linejoin="round"/></g><g filter="url(#b1)"><path d="M1224,497 L1224.5,440 C1225,420 1228,407 1231,407 C1234,407 1237,420 1237,440 L1236.5,497 Z" fill="#383838"/><path d="M1239,497 L1239.5,430 C1240,412 1243,400 1246,400 C1249,400 1252,412 1252,430 L1251.5,497 Z" fill="#1a1a1a"/><polygon points="1253.5,497.0 1253.5,475.0 1253.0,440.0 1253.5,400.0 1255.0,375.0 1257.5,350.0 1259.0,335.0 1261.0,325.0 1265.3,320.0 1270.0,325.0 1273.0,335.0 1276.5,350.0 1279.5,375.0 1281.5,400.0 1285.0,440.0 1288.0,475.0 1289.0,497.0" fill="#000000"/><polygon points="1295.0,497.0 1294.0,475.0 1289.0,420.0 1287.5,400.0 1287.5,380.0 1288.5,360.0 1290.6,350.6 1294.0,360.0 1298.5,380.0 1301.0,400.0 1303.0,420.0 1308.0,475.0 1309.0,497.0" fill="#050505"/></g><g filter="url(#b3)"><ellipse cx="1265.3" cy="326.0" rx="6.0" ry="7.0" fill="#4c4c4c"/><ellipse cx="1290.6" cy="356.0" rx="3.5" ry="6.0" fill="#595959"/></g><g filter="url(#b1)"><polyline points="1252.5,420.0 1252.5,497.0" fill="none" stroke="#707070" stroke-width="2.2" stroke-linecap="round" stroke-linejoin="round"/><polyline points="1291.0,405.0 1291.5,440.0 1293.0,497.0" fill="none" stroke="#757575" stroke-width="3.0" stroke-linecap="round" stroke-linejoin="round"/><polyline points="1238.0,425.0 1238.0,497.0" fill="none" stroke="#737373" stroke-width="2.2" stroke-linecap="round" stroke-linejoin="round"/></g><g filter="url(#b1)"><polyline points="989.0,180.0 1200.0,180.0" fill="none" stroke="#f2f2f2" stroke-width="1.5" stroke-linecap="butt" stroke-linejoin="round"/></g><g filter="url(#b2)"><polyline points="1033.0,188.5 1056.0,188.5" fill="none" stroke="#d9d9d9" stroke-width="5.0" stroke-linecap="round" stroke-linejoin="round"/><polyline points="1069.0,188.5 1081.0,188.5" fill="none" stroke="#b8b8b8" stroke-width="5.0" stroke-linecap="round" stroke-linejoin="round"/><polyline points="1123.0,188.5 1135.0,188.5" fill="none" stroke="#bababa" stroke-width="5.0" stroke-linecap="round" stroke-linejoin="round"/><polyline points="1146.0,188.5 1157.0,188.5" fill="none" stroke="#cccccc" stroke-width="5.0" stroke-linecap="round" stroke-linejoin="round"/></g></g></g><g font-family='"Liberation Sans", Arial, Helvetica, sans-serif' font-size="29" fill="#000"><path d="M143.0 21.3H629.5V494.5" fill="none" stroke="#222" stroke-width="1.6"/><path d="M195.80 494.5V505.0M272.60 494.5V505.0M349.40 494.5V505.0M426.20 494.5V505.0M503.00 494.5V505.0M579.80 494.5V505.0M157.40 494.5V500.5M234.20 494.5V500.5M311.00 494.5V500.5M387.80 494.5V500.5M464.60 494.5V500.5M541.40 494.5V500.5M618.20 494.5V500.5M143.0 494.50H133.0M143.0 431.38H133.0M143.0 368.26H133.0M143.0 305.15H133.0M143.0 242.03H133.0M143.0 178.91H133.0M143.0 115.79H133.0M143.0 52.67H133.0M143.0 462.94H137.5M143.0 399.82H137.5M143.0 336.71H137.5M143.0 273.59H137.5M143.0 210.47H137.5M143.0 147.35H137.5M143.0 84.23H137.5M143.0 21.12H137.5" stroke="#111" stroke-width="2.2" fill="none"/><path d="M143.0 20.3V494.5H630.3" fill="none" stroke="#111" stroke-width="2.6"/><text x="195.8" y="538.6" text-anchor="middle">−20</text><text x="272.6" y="538.6" text-anchor="middle">−10</text><text x="349.4" y="538.6" text-anchor="middle">0</text><text x="426.2" y="538.6" text-anchor="middle">10</text><text x="503.0" y="538.6" text-anchor="middle">20</text><text x="579.8" y="538.6" text-anchor="middle">30</text><text x="122.4" y="504.6" text-anchor="end">0</text><text x="122.4" y="441.5" text-anchor="end">200</text><text x="122.4" y="378.4" text-anchor="end">400</text><text x="122.4" y="315.2" text-anchor="end">600</text><text x="122.4" y="252.1" text-anchor="end">800</text><text x="122.4" y="189.0" text-anchor="end">1000</text><text x="122.4" y="125.9" text-anchor="end">1200</text><text x="122.4" y="62.8" text-anchor="end">1400</text><path d="M988.8 21.3H1474.6V495.0" fill="none" stroke="#222" stroke-width="1.6"/><path d="M995.64 495.0V505.5M1062.23 495.0V505.5M1128.82 495.0V505.5M1195.41 495.0V505.5M1262.00 495.0V505.5M1328.59 495.0V505.5M1395.18 495.0V505.5M1461.77 495.0V505.5M1028.93 495.0V501.0M1095.53 495.0V501.0M1162.12 495.0V501.0M1228.70 495.0V501.0M1295.30 495.0V501.0M1361.88 495.0V501.0M1428.47 495.0V501.0M988.8 495.00H978.8M988.8 429.67H978.8M988.8 364.34H978.8M988.8 299.02H978.8M988.8 233.69H978.8M988.8 168.36H978.8M988.8 103.03H978.8M988.8 37.70H978.8M988.8 462.34H983.3M988.8 397.01H983.3M988.8 331.68H983.3M988.8 266.35H983.3M988.8 201.02H983.3M988.8 135.70H983.3M988.8 70.37H983.3" stroke="#111" stroke-width="2.2" fill="none"/><path d="M988.8 20.3V495.0H1475.4" fill="none" stroke="#111" stroke-width="2.6"/><text x="995.6" y="538.6" text-anchor="middle">−40</text><text x="1062.2" y="538.6" text-anchor="middle">−30</text><text x="1128.8" y="538.6" text-anchor="middle">−20</text><text x="1195.4" y="538.6" text-anchor="middle">−10</text><text x="1262.0" y="538.6" text-anchor="middle">0</text><text x="1328.6" y="538.6" text-anchor="middle">10</text><text x="1395.2" y="538.6" text-anchor="middle">20</text><text x="1461.8" y="538.6" text-anchor="middle">30</text><text x="967.0" y="503.7" text-anchor="end">0</text><text x="967.0" y="438.4" text-anchor="end">200</text><text x="967.0" y="373.0" text-anchor="end">400</text><text x="967.0" y="307.7" text-anchor="end">600</text><text x="967.0" y="242.4" text-anchor="end">800</text><text x="967.0" y="177.1" text-anchor="end">1000</text><text x="967.0" y="111.7" text-anchor="end">1200</text><text x="967.0" y="46.4" text-anchor="end">1400</text><text transform="translate(-0.3,31) scale(0.89,1)" font-weight="bold" font-size="42">a</text><text x="843.5" y="31" font-weight="bold" font-size="42">b</text><text x="339" y="582.8"><tspan font-style="italic">B</tspan><tspan font-style="italic" font-size="20" dy="7">z</tspan><tspan dy="-7"> (mT)</tspan></text><text transform="translate(22.8,309) rotate(-90)"><tspan font-style="italic">B</tspan><tspan font-style="italic" font-size="20" dy="7">y</tspan><tspan dy="-7"> (mT)</tspan></text><text x="1127.5" y="582.9">Rotated <tspan font-style="italic">B</tspan><tspan font-style="italic" font-size="20" dy="7">z</tspan><tspan dy="-7"> (a.u.)</tspan></text><text transform="translate(868.7,364.4) rotate(-90)">Rotated <tspan font-style="italic">B</tspan><tspan font-style="italic" font-size="20" dy="7">y</tspan><tspan dy="-7"> (a.u.)</tspan></text><rect x="673.2" y="298.4" width="62.2" height="187.6" fill="url(#cbg)"/><text x="667.0" y="278">d<tspan font-style="italic">V</tspan>/d<tspan font-style="italic">I</tspan> (<tspan font-family='"Liberation Serif", serif'>Ω</tspan>)</text><text x="749.0" y="494.7">0</text><text x="749.0" y="454.8">25</text><text x="749.0" y="414.9">50</text><text x="749.0" y="375.0">75</text><text x="749.0" y="335.1">100</text><rect x="1519.0" y="296.0" width="62.0" height="188.0" fill="url(#cbg)"/><text x="1529.2" y="278">d<tspan font-style="italic">V</tspan>/d<tspan font-style="italic">I</tspan> (<tspan font-family='"Liberation Serif", serif'>Ω</tspan>)</text><text x="1593.0" y="494.1">0</text><text x="1593.0" y="453.1">25</text><text x="1593.0" y="412.1">50</text><text x="1593.0" y="371.1">75</text><text x="1593.0" y="330.1">100</text></g><rect x="1117.6" y="303.3" width="8.4" height="8.4" fill="#000"/><rect x="1138.1" y="303.3" width="8.4" height="8.4" fill="#000"/><rect x="1159.0" y="303.3" width="8.4" height="8.4" fill="#000"/><rect x="1176.2" y="363.0" width="8.4" height="8.4" fill="#000"/><rect x="1340.8" y="371.8" width="8.4" height="8.4" fill="#000"/><rect x="1356.0" y="339.4" width="8.4" height="8.4" fill="#000"/><rect x="1372.6" y="330.5" width="8.4" height="8.4" fill="#000"/><rect x="1269.5" y="491.2" width="8.4" height="4" fill="#000"/><path d="M1274.6 494.7L1282.3 482.8M1292.1 467.6L1300.9 454.0M1310.7 438.8L1319.5 425.2M1329.3 410.0L1338.1 396.4M1347.9 381.2L1356.7 367.6M1366.5 352.4L1375.2 338.7" stroke="#000" stroke-width="3.6" fill="none"/></svg></body></html>
